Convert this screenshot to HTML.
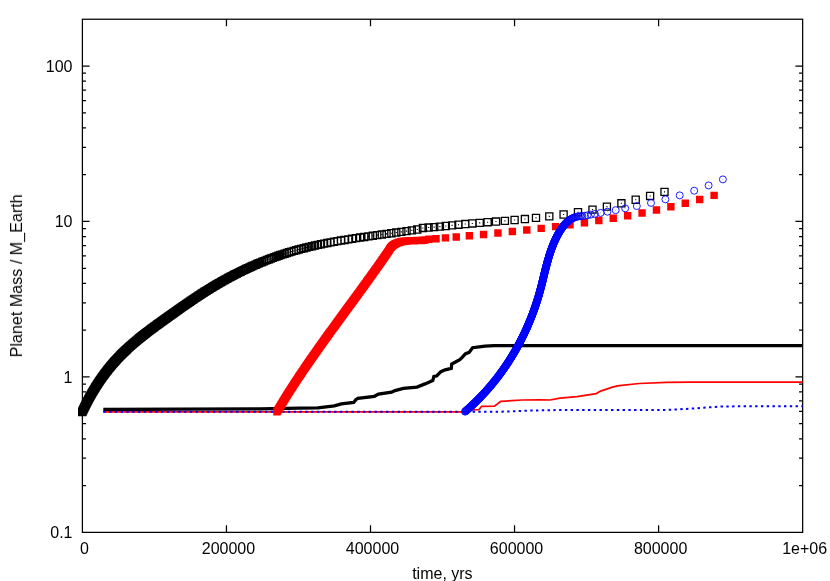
<!DOCTYPE html><html><head><meta charset="utf-8"><style>html,body{margin:0;padding:0;background:#fff}svg{display:block}</style></head><body><svg width="830" height="581" viewBox="0 0 830 581">
<rect width="830" height="581" fill="#fff"/>
<path d="M226.45,532.36 v-7 M226.45,19.23 v7 M370.50,532.36 v-7 M370.50,19.23 v7 M514.55,532.36 v-7 M514.55,19.23 v7 M658.60,532.36 v-7 M658.60,19.23 v7 M82.4,485.57 h3.6 M802.65,485.57 h-3.6 M82.4,458.19 h3.6 M802.65,458.19 h-3.6 M82.4,438.77 h3.6 M802.65,438.77 h-3.6 M82.4,423.71 h3.6 M802.65,423.71 h-3.6 M82.4,411.40 h3.6 M802.65,411.40 h-3.6 M82.4,400.99 h3.6 M802.65,400.99 h-3.6 M82.4,391.98 h3.6 M802.65,391.98 h-3.6 M82.4,384.03 h3.6 M802.65,384.03 h-3.6 M82.4,376.91 h7.2 M802.65,376.91 h-7.2 M82.4,330.12 h3.6 M802.65,330.12 h-3.6 M82.4,302.75 h3.6 M802.65,302.75 h-3.6 M82.4,283.33 h3.6 M802.65,283.33 h-3.6 M82.4,268.26 h3.6 M802.65,268.26 h-3.6 M82.4,255.95 h3.6 M802.65,255.95 h-3.6 M82.4,245.55 h3.6 M802.65,245.55 h-3.6 M82.4,236.53 h3.6 M802.65,236.53 h-3.6 M82.4,228.58 h3.6 M802.65,228.58 h-3.6 M82.4,221.47 h7.2 M802.65,221.47 h-7.2 M82.4,174.68 h3.6 M802.65,174.68 h-3.6 M82.4,147.30 h3.6 M802.65,147.30 h-3.6 M82.4,127.88 h3.6 M802.65,127.88 h-3.6 M82.4,112.82 h3.6 M802.65,112.82 h-3.6 M82.4,100.51 h3.6 M802.65,100.51 h-3.6 M82.4,90.10 h3.6 M802.65,90.10 h-3.6 M82.4,81.09 h3.6 M802.65,81.09 h-3.6 M82.4,73.14 h3.6 M802.65,73.14 h-3.6 M82.4,66.02 h7.2 M802.65,66.02 h-7.2" stroke="#000" stroke-width="1.25" fill="none"/>
<rect x="82.4" y="19.23" width="720.25" height="513.13" fill="none" stroke="#000" stroke-width="1.25"/>
<path d="M103.30,409.50 L180.00,409.20 L260.00,408.80 L300.00,408.20 L317.90,407.90 L334.40,405.90 L341.30,403.90 L353.70,402.50 L355.80,399.70 L357.90,398.40 L374.40,396.30 L378.50,394.00 L391.60,392.20 L395.00,390.60 L403.30,388.40 L417.00,387.10 L425.00,383.90 L432.70,380.60 L433.90,376.50 L436.60,376.00 L440.90,371.70 L445.10,369.80 L451.30,368.30 L451.70,364.10 L456.00,361.70 L459.80,359.70 L462.20,357.40 L465.30,353.90 L469.10,352.40 L472.60,347.70 L479.20,346.90 L485.00,346.20 L494.40,345.60 L802.70,345.60" stroke="#000" stroke-width="3.3" fill="none" stroke-linejoin="miter"/>
<path d="M103.30,411.90 L466.00,411.90 L469.00,409.90 L478.90,409.70 L481.60,406.30 L494.50,406.15 L500.90,401.30 L512.00,400.70 L522.00,400.00 L540.00,399.90 L550.00,400.00 L560.10,398.20 L577.00,396.60 L596.40,393.60 L600.60,391.10 L613.20,386.90 L619.20,385.70 L639.40,383.50 L666.40,382.30 L690.00,382.20 L802.70,382.20" stroke="#f00" stroke-width="1.7" fill="none" stroke-linejoin="round"/>
<path d="M103.30,411.85 L500.00,411.75 L530.00,410.60 L560.00,410.00 L666.00,410.00 L690.00,408.70 L722.00,406.40 L802.70,406.20" stroke="#00f" stroke-width="2" fill="none" stroke-dasharray="2.4 3.37"/>
<path d="M78.65,408.41h7.1v7.1h-7.1z M78.85,408.03h7.1v7.1h-7.1z M79.10,407.48h7.1v7.1h-7.1z M79.36,406.93h7.1v7.1h-7.1z M79.62,406.38h7.1v7.1h-7.1z M79.88,405.83h7.1v7.1h-7.1z M80.14,405.28h7.1v7.1h-7.1z M80.40,404.73h7.1v7.1h-7.1z M80.66,404.18h7.1v7.1h-7.1z M80.93,403.63h7.1v7.1h-7.1z M81.20,403.08h7.1v7.1h-7.1z M81.47,402.53h7.1v7.1h-7.1z M81.74,401.98h7.1v7.1h-7.1z M82.01,401.43h7.1v7.1h-7.1z M82.29,400.89h7.1v7.1h-7.1z M82.57,400.34h7.1v7.1h-7.1z M82.84,399.79h7.1v7.1h-7.1z M83.13,399.24h7.1v7.1h-7.1z M83.41,398.69h7.1v7.1h-7.1z M83.69,398.14h7.1v7.1h-7.1z M83.98,397.60h7.1v7.1h-7.1z M84.27,397.05h7.1v7.1h-7.1z M84.56,396.50h7.1v7.1h-7.1z M84.85,395.95h7.1v7.1h-7.1z M85.14,395.41h7.1v7.1h-7.1z M85.44,394.86h7.1v7.1h-7.1z M85.74,394.31h7.1v7.1h-7.1z M86.04,393.77h7.1v7.1h-7.1z M86.34,393.22h7.1v7.1h-7.1z M86.64,392.67h7.1v7.1h-7.1z M86.95,392.13h7.1v7.1h-7.1z M87.26,391.58h7.1v7.1h-7.1z M87.57,391.03h7.1v7.1h-7.1z M87.88,390.49h7.1v7.1h-7.1z M88.19,389.94h7.1v7.1h-7.1z M88.51,389.40h7.1v7.1h-7.1z M88.83,388.85h7.1v7.1h-7.1z M89.15,388.31h7.1v7.1h-7.1z M89.47,387.76h7.1v7.1h-7.1z M89.79,387.22h7.1v7.1h-7.1z M90.12,386.67h7.1v7.1h-7.1z M90.45,386.13h7.1v7.1h-7.1z M90.78,385.58h7.1v7.1h-7.1z M91.11,385.04h7.1v7.1h-7.1z M91.45,384.49h7.1v7.1h-7.1z M91.79,383.95h7.1v7.1h-7.1z M92.13,383.41h7.1v7.1h-7.1z M92.47,382.86h7.1v7.1h-7.1z M92.81,382.32h7.1v7.1h-7.1z M93.16,381.78h7.1v7.1h-7.1z M93.51,381.23h7.1v7.1h-7.1z M93.86,380.69h7.1v7.1h-7.1z M94.22,380.15h7.1v7.1h-7.1z M94.57,379.60h7.1v7.1h-7.1z M94.93,379.06h7.1v7.1h-7.1z M95.29,378.52h7.1v7.1h-7.1z M95.65,377.98h7.1v7.1h-7.1z M96.02,377.44h7.1v7.1h-7.1z M96.39,376.90h7.1v7.1h-7.1z M96.76,376.36h7.1v7.1h-7.1z M97.13,375.82h7.1v7.1h-7.1z M97.51,375.28h7.1v7.1h-7.1z M97.88,374.74h7.1v7.1h-7.1z M98.26,374.20h7.1v7.1h-7.1z M98.65,373.66h7.1v7.1h-7.1z M99.03,373.12h7.1v7.1h-7.1z M99.42,372.58h7.1v7.1h-7.1z M99.81,372.04h7.1v7.1h-7.1z M100.20,371.50h7.1v7.1h-7.1z M100.60,370.97h7.1v7.1h-7.1z M101.00,370.43h7.1v7.1h-7.1z M101.40,369.89h7.1v7.1h-7.1z M101.80,369.36h7.1v7.1h-7.1z M102.21,368.82h7.1v7.1h-7.1z M102.62,368.29h7.1v7.1h-7.1z M103.03,367.75h7.1v7.1h-7.1z M103.44,367.22h7.1v7.1h-7.1z M103.86,366.68h7.1v7.1h-7.1z M104.28,366.15h7.1v7.1h-7.1z M104.70,365.62h7.1v7.1h-7.1z M105.13,365.08h7.1v7.1h-7.1z M105.56,364.55h7.1v7.1h-7.1z M105.99,364.02h7.1v7.1h-7.1z M106.42,363.49h7.1v7.1h-7.1z M106.86,362.96h7.1v7.1h-7.1z M107.30,362.43h7.1v7.1h-7.1z M107.74,361.90h7.1v7.1h-7.1z M108.19,361.37h7.1v7.1h-7.1z M108.64,360.85h7.1v7.1h-7.1z M109.09,360.32h7.1v7.1h-7.1z M109.54,359.79h7.1v7.1h-7.1z M110.00,359.27h7.1v7.1h-7.1z M110.46,358.74h7.1v7.1h-7.1z M110.93,358.22h7.1v7.1h-7.1z M111.39,357.70h7.1v7.1h-7.1z M111.86,357.18h7.1v7.1h-7.1z M112.34,356.65h7.1v7.1h-7.1z M112.81,356.13h7.1v7.1h-7.1z M113.29,355.61h7.1v7.1h-7.1z M113.77,355.09h7.1v7.1h-7.1z M114.26,354.58h7.1v7.1h-7.1z M114.75,354.06h7.1v7.1h-7.1z M115.24,353.54h7.1v7.1h-7.1z M115.73,353.03h7.1v7.1h-7.1z M116.23,352.51h7.1v7.1h-7.1z M116.73,352.00h7.1v7.1h-7.1z M117.24,351.49h7.1v7.1h-7.1z M117.75,350.97h7.1v7.1h-7.1z M118.26,350.46h7.1v7.1h-7.1z M118.77,349.95h7.1v7.1h-7.1z M119.29,349.44h7.1v7.1h-7.1z M119.81,348.93h7.1v7.1h-7.1z M120.34,348.42h7.1v7.1h-7.1z M120.87,347.91h7.1v7.1h-7.1z M121.40,347.40h7.1v7.1h-7.1z M121.93,346.90h7.1v7.1h-7.1z M122.47,346.39h7.1v7.1h-7.1z M123.01,345.88h7.1v7.1h-7.1z M123.56,345.38h7.1v7.1h-7.1z M124.11,344.87h7.1v7.1h-7.1z M124.66,344.36h7.1v7.1h-7.1z M125.22,343.86h7.1v7.1h-7.1z M125.77,343.35h7.1v7.1h-7.1z M126.34,342.85h7.1v7.1h-7.1z M126.90,342.34h7.1v7.1h-7.1z M127.47,341.84h7.1v7.1h-7.1z M128.05,341.33h7.1v7.1h-7.1z M128.63,340.83h7.1v7.1h-7.1z M129.21,340.33h7.1v7.1h-7.1z M129.79,339.82h7.1v7.1h-7.1z M130.38,339.32h7.1v7.1h-7.1z M130.97,338.81h7.1v7.1h-7.1z M131.57,338.31h7.1v7.1h-7.1z M132.17,337.80h7.1v7.1h-7.1z M132.77,337.30h7.1v7.1h-7.1z M133.38,336.79h7.1v7.1h-7.1z M133.99,336.28h7.1v7.1h-7.1z M134.61,335.78h7.1v7.1h-7.1z M135.23,335.27h7.1v7.1h-7.1z M135.85,334.76h7.1v7.1h-7.1z M136.48,334.25h7.1v7.1h-7.1z M137.11,333.75h7.1v7.1h-7.1z M137.74,333.24h7.1v7.1h-7.1z M138.38,332.73h7.1v7.1h-7.1z M139.03,332.22h7.1v7.1h-7.1z M139.68,331.71h7.1v7.1h-7.1z M140.33,331.20h7.1v7.1h-7.1z M140.98,330.68h7.1v7.1h-7.1z M141.64,330.17h7.1v7.1h-7.1z M142.31,329.65h7.1v7.1h-7.1z M142.98,329.14h7.1v7.1h-7.1z M143.65,328.62h7.1v7.1h-7.1z M144.33,328.11h7.1v7.1h-7.1z M145.01,327.59h7.1v7.1h-7.1z M145.70,327.07h7.1v7.1h-7.1z M146.39,326.55h7.1v7.1h-7.1z M147.08,326.02h7.1v7.1h-7.1z M147.78,325.50h7.1v7.1h-7.1z M148.48,324.98h7.1v7.1h-7.1z M149.19,324.45h7.1v7.1h-7.1z M149.91,323.92h7.1v7.1h-7.1z M150.62,323.39h7.1v7.1h-7.1z M151.35,322.86h7.1v7.1h-7.1z M152.07,322.33h7.1v7.1h-7.1z M152.80,321.79h7.1v7.1h-7.1z M153.54,321.25h7.1v7.1h-7.1z M154.28,320.72h7.1v7.1h-7.1z M155.03,320.17h7.1v7.1h-7.1z M155.78,319.63h7.1v7.1h-7.1z M156.53,319.09h7.1v7.1h-7.1z M157.29,318.54h7.1v7.1h-7.1z M158.06,317.99h7.1v7.1h-7.1z M158.83,317.44h7.1v7.1h-7.1z M159.60,316.88h7.1v7.1h-7.1z M160.38,316.32h7.1v7.1h-7.1z M161.16,315.76h7.1v7.1h-7.1z M161.95,315.20h7.1v7.1h-7.1z M162.75,314.63h7.1v7.1h-7.1z M163.55,314.06h7.1v7.1h-7.1z M164.35,313.49h7.1v7.1h-7.1z M165.16,312.91h7.1v7.1h-7.1z M165.98,312.33h7.1v7.1h-7.1z M166.80,311.75h7.1v7.1h-7.1z M167.62,311.17h7.1v7.1h-7.1z M168.46,310.58h7.1v7.1h-7.1z M169.29,309.98h7.1v7.1h-7.1z M170.13,309.39h7.1v7.1h-7.1z M170.98,308.78h7.1v7.1h-7.1z M171.83,308.18h7.1v7.1h-7.1z M172.69,307.57h7.1v7.1h-7.1z M173.55,306.96h7.1v7.1h-7.1z M174.42,306.35h7.1v7.1h-7.1z M175.30,305.73h7.1v7.1h-7.1z M176.18,305.12h7.1v7.1h-7.1z M177.06,304.49h7.1v7.1h-7.1z M177.95,303.87h7.1v7.1h-7.1z M178.85,303.24h7.1v7.1h-7.1z M179.75,302.61h7.1v7.1h-7.1z M180.66,301.98h7.1v7.1h-7.1z M181.58,301.34h7.1v7.1h-7.1z M182.50,300.70h7.1v7.1h-7.1z M183.42,300.06h7.1v7.1h-7.1z M184.36,299.42h7.1v7.1h-7.1z M185.29,298.78h7.1v7.1h-7.1z M186.24,298.13h7.1v7.1h-7.1z M187.19,297.48h7.1v7.1h-7.1z M188.14,296.83h7.1v7.1h-7.1z M189.11,296.18h7.1v7.1h-7.1z M190.08,295.53h7.1v7.1h-7.1z M191.05,294.87h7.1v7.1h-7.1z M192.03,294.22h7.1v7.1h-7.1z M193.02,293.56h7.1v7.1h-7.1z M194.01,292.90h7.1v7.1h-7.1z M195.01,292.24h7.1v7.1h-7.1z M196.02,291.58h7.1v7.1h-7.1z M197.03,290.92h7.1v7.1h-7.1z M198.05,290.26h7.1v7.1h-7.1z M199.08,289.60h7.1v7.1h-7.1z M200.11,288.94h7.1v7.1h-7.1z M201.15,288.27h7.1v7.1h-7.1z M202.19,287.61h7.1v7.1h-7.1z M203.25,286.95h7.1v7.1h-7.1z M204.30,286.29h7.1v7.1h-7.1z M205.37,285.63h7.1v7.1h-7.1z M206.44,284.97h7.1v7.1h-7.1z M207.52,284.31h7.1v7.1h-7.1z M208.61,283.65h7.1v7.1h-7.1z M209.70,282.99h7.1v7.1h-7.1z M210.80,282.34h7.1v7.1h-7.1z M211.91,281.68h7.1v7.1h-7.1z M213.03,281.02h7.1v7.1h-7.1z M214.15,280.37h7.1v7.1h-7.1z M215.28,279.71h7.1v7.1h-7.1z M216.41,279.06h7.1v7.1h-7.1z M217.56,278.40h7.1v7.1h-7.1z M218.71,277.75h7.1v7.1h-7.1z M219.86,277.10h7.1v7.1h-7.1z M221.03,276.45h7.1v7.1h-7.1z M222.20,275.81h7.1v7.1h-7.1z M223.38,275.16h7.1v7.1h-7.1z M224.57,274.51h7.1v7.1h-7.1z M225.77,273.87h7.1v7.1h-7.1z M226.97,273.23h7.1v7.1h-7.1z M228.20,272.58h7.1v7.1h-7.1z M229.44,271.93h7.1v7.1h-7.1z M230.70,271.27h7.1v7.1h-7.1z M231.98,270.61h7.1v7.1h-7.1z M233.28,269.95h7.1v7.1h-7.1z M234.60,269.29h7.1v7.1h-7.1z M235.94,268.62h7.1v7.1h-7.1z M237.30,267.95h7.1v7.1h-7.1z M238.67,267.28h7.1v7.1h-7.1z M240.07,266.60h7.1v7.1h-7.1z M241.49,265.93h7.1v7.1h-7.1z M242.93,265.25h7.1v7.1h-7.1z M244.39,264.57h7.1v7.1h-7.1z M245.87,263.88h7.1v7.1h-7.1z M247.37,263.20h7.1v7.1h-7.1z M248.89,262.52h7.1v7.1h-7.1z M250.44,261.83h7.1v7.1h-7.1z M252.01,261.14h7.1v7.1h-7.1z M253.60,260.46h7.1v7.1h-7.1z M255.22,259.77h7.1v7.1h-7.1z M256.86,259.09h7.1v7.1h-7.1z M258.53,258.40h7.1v7.1h-7.1z M260.21,257.71h7.1v7.1h-7.1z M261.93,257.03h7.1v7.1h-7.1z M263.67,256.35h7.1v7.1h-7.1z M265.44,255.66h7.1v7.1h-7.1z M267.25,254.98h7.1v7.1h-7.1z M269.10,254.29h7.1v7.1h-7.1z M270.99,253.60h7.1v7.1h-7.1z M272.92,252.91h7.1v7.1h-7.1z M274.90,252.22h7.1v7.1h-7.1z M276.92,251.52h7.1v7.1h-7.1z M278.99,250.83h7.1v7.1h-7.1z M281.12,250.13h7.1v7.1h-7.1z M283.30,249.44h7.1v7.1h-7.1z M285.54,248.74h7.1v7.1h-7.1z M287.84,248.05h7.1v7.1h-7.1z M290.20,247.36h7.1v7.1h-7.1z M292.62,246.67h7.1v7.1h-7.1z M295.10,245.99h7.1v7.1h-7.1z M297.64,245.31h7.1v7.1h-7.1z M300.25,244.64h7.1v7.1h-7.1z M302.93,243.97h7.1v7.1h-7.1z M305.68,243.30h7.1v7.1h-7.1z M308.50,242.64h7.1v7.1h-7.1z M311.39,241.99h7.1v7.1h-7.1z M314.36,241.34h7.1v7.1h-7.1z M317.41,240.70h7.1v7.1h-7.1z M320.53,240.07h7.1v7.1h-7.1z M323.73,239.44h7.1v7.1h-7.1z M327.02,238.81h7.1v7.1h-7.1z M330.39,238.20h7.1v7.1h-7.1z M333.85,237.59h7.1v7.1h-7.1z M337.40,236.98h7.1v7.1h-7.1z M341.04,236.38h7.1v7.1h-7.1z M344.77,235.78h7.1v7.1h-7.1z M348.60,235.19h7.1v7.1h-7.1z M352.53,234.60h7.1v7.1h-7.1z M356.56,234.00h7.1v7.1h-7.1z M360.69,233.41h7.1v7.1h-7.1z M364.92,232.81h7.1v7.1h-7.1z M369.27,232.21h7.1v7.1h-7.1z M373.73,231.60h7.1v7.1h-7.1z M378.30,230.98h7.1v7.1h-7.1z M382.99,230.35h7.1v7.1h-7.1z M387.80,229.69h7.1v7.1h-7.1z M392.73,229.01h7.1v7.1h-7.1z M397.79,228.30h7.1v7.1h-7.1z M402.97,227.56h7.1v7.1h-7.1z M408.29,226.78h7.1v7.1h-7.1z M413.75,225.96h7.1v7.1h-7.1z M419.35,224.40h7.1v7.1h-7.1z M425.05,224.02h7.1v7.1h-7.1z M430.65,223.57h7.1v7.1h-7.1z M436.35,223.04h7.1v7.1h-7.1z M442.25,222.45h7.1v7.1h-7.1z M448.55,221.80h7.1v7.1h-7.1z M454.95,221.16h7.1v7.1h-7.1z M461.75,220.52h7.1v7.1h-7.1z M468.75,219.90h7.1v7.1h-7.1z M476.15,219.29h7.1v7.1h-7.1z M484.05,218.66h7.1v7.1h-7.1z M492.45,218.00h7.1v7.1h-7.1z M501.35,217.28h7.1v7.1h-7.1z M511.05,216.45h7.1v7.1h-7.1z M521.35,215.50h7.1v7.1h-7.1z M532.45,214.37h7.1v7.1h-7.1z M545.75,212.84h7.1v7.1h-7.1z M560.05,210.93h7.1v7.1h-7.1z M574.45,208.68h7.1v7.1h-7.1z M588.95,206.04h7.1v7.1h-7.1z M603.35,203.08h7.1v7.1h-7.1z M617.85,199.77h7.1v7.1h-7.1z M632.15,196.22h7.1v7.1h-7.1z M646.55,192.40h7.1v7.1h-7.1z M660.95,188.36h7.1v7.1h-7.1z" stroke="#000" stroke-width="1.3" fill="none"/>
<path d="M81.65,411.41h1.1v1.1h-1.1z M81.85,411.03h1.1v1.1h-1.1z M82.10,410.48h1.1v1.1h-1.1z M82.36,409.93h1.1v1.1h-1.1z M82.62,409.38h1.1v1.1h-1.1z M82.88,408.83h1.1v1.1h-1.1z M83.14,408.28h1.1v1.1h-1.1z M83.40,407.73h1.1v1.1h-1.1z M83.66,407.18h1.1v1.1h-1.1z M83.93,406.63h1.1v1.1h-1.1z M84.20,406.08h1.1v1.1h-1.1z M84.47,405.53h1.1v1.1h-1.1z M84.74,404.98h1.1v1.1h-1.1z M85.01,404.43h1.1v1.1h-1.1z M85.29,403.89h1.1v1.1h-1.1z M85.57,403.34h1.1v1.1h-1.1z M85.84,402.79h1.1v1.1h-1.1z M86.13,402.24h1.1v1.1h-1.1z M86.41,401.69h1.1v1.1h-1.1z M86.69,401.14h1.1v1.1h-1.1z M86.98,400.60h1.1v1.1h-1.1z M87.27,400.05h1.1v1.1h-1.1z M87.56,399.50h1.1v1.1h-1.1z M87.85,398.95h1.1v1.1h-1.1z M88.14,398.41h1.1v1.1h-1.1z M88.44,397.86h1.1v1.1h-1.1z M88.74,397.31h1.1v1.1h-1.1z M89.04,396.77h1.1v1.1h-1.1z M89.34,396.22h1.1v1.1h-1.1z M89.64,395.67h1.1v1.1h-1.1z M89.95,395.13h1.1v1.1h-1.1z M90.26,394.58h1.1v1.1h-1.1z M90.57,394.03h1.1v1.1h-1.1z M90.88,393.49h1.1v1.1h-1.1z M91.19,392.94h1.1v1.1h-1.1z M91.51,392.40h1.1v1.1h-1.1z M91.83,391.85h1.1v1.1h-1.1z M92.15,391.31h1.1v1.1h-1.1z M92.47,390.76h1.1v1.1h-1.1z M92.79,390.22h1.1v1.1h-1.1z M93.12,389.67h1.1v1.1h-1.1z M93.45,389.13h1.1v1.1h-1.1z M93.78,388.58h1.1v1.1h-1.1z M94.11,388.04h1.1v1.1h-1.1z M94.45,387.49h1.1v1.1h-1.1z M94.79,386.95h1.1v1.1h-1.1z M95.13,386.41h1.1v1.1h-1.1z M95.47,385.86h1.1v1.1h-1.1z M95.81,385.32h1.1v1.1h-1.1z M96.16,384.78h1.1v1.1h-1.1z M96.51,384.23h1.1v1.1h-1.1z M96.86,383.69h1.1v1.1h-1.1z M97.22,383.15h1.1v1.1h-1.1z M97.57,382.60h1.1v1.1h-1.1z M97.93,382.06h1.1v1.1h-1.1z M98.29,381.52h1.1v1.1h-1.1z M98.65,380.98h1.1v1.1h-1.1z M99.02,380.44h1.1v1.1h-1.1z M99.39,379.90h1.1v1.1h-1.1z M99.76,379.36h1.1v1.1h-1.1z M100.13,378.82h1.1v1.1h-1.1z M100.51,378.28h1.1v1.1h-1.1z M100.88,377.74h1.1v1.1h-1.1z M101.26,377.20h1.1v1.1h-1.1z M101.65,376.66h1.1v1.1h-1.1z M102.03,376.12h1.1v1.1h-1.1z M102.42,375.58h1.1v1.1h-1.1z M102.81,375.04h1.1v1.1h-1.1z M103.20,374.50h1.1v1.1h-1.1z M103.60,373.97h1.1v1.1h-1.1z M104.00,373.43h1.1v1.1h-1.1z M104.40,372.89h1.1v1.1h-1.1z M104.80,372.36h1.1v1.1h-1.1z M105.21,371.82h1.1v1.1h-1.1z M105.62,371.29h1.1v1.1h-1.1z M106.03,370.75h1.1v1.1h-1.1z M106.44,370.22h1.1v1.1h-1.1z M106.86,369.68h1.1v1.1h-1.1z M107.28,369.15h1.1v1.1h-1.1z M107.70,368.62h1.1v1.1h-1.1z M108.13,368.08h1.1v1.1h-1.1z M108.56,367.55h1.1v1.1h-1.1z M108.99,367.02h1.1v1.1h-1.1z M109.42,366.49h1.1v1.1h-1.1z M109.86,365.96h1.1v1.1h-1.1z M110.30,365.43h1.1v1.1h-1.1z M110.74,364.90h1.1v1.1h-1.1z M111.19,364.37h1.1v1.1h-1.1z M111.64,363.85h1.1v1.1h-1.1z M112.09,363.32h1.1v1.1h-1.1z M112.54,362.79h1.1v1.1h-1.1z M113.00,362.27h1.1v1.1h-1.1z M113.46,361.74h1.1v1.1h-1.1z M113.93,361.22h1.1v1.1h-1.1z M114.39,360.70h1.1v1.1h-1.1z M114.86,360.18h1.1v1.1h-1.1z M115.34,359.65h1.1v1.1h-1.1z M115.81,359.13h1.1v1.1h-1.1z M116.29,358.61h1.1v1.1h-1.1z M116.77,358.09h1.1v1.1h-1.1z M117.26,357.58h1.1v1.1h-1.1z M117.75,357.06h1.1v1.1h-1.1z M118.24,356.54h1.1v1.1h-1.1z M118.73,356.03h1.1v1.1h-1.1z M119.23,355.51h1.1v1.1h-1.1z M119.73,355.00h1.1v1.1h-1.1z M120.24,354.49h1.1v1.1h-1.1z M120.75,353.97h1.1v1.1h-1.1z M121.26,353.46h1.1v1.1h-1.1z M121.77,352.95h1.1v1.1h-1.1z M122.29,352.44h1.1v1.1h-1.1z M122.81,351.93h1.1v1.1h-1.1z M123.34,351.42h1.1v1.1h-1.1z M123.87,350.91h1.1v1.1h-1.1z M124.40,350.40h1.1v1.1h-1.1z M124.93,349.90h1.1v1.1h-1.1z M125.47,349.39h1.1v1.1h-1.1z M126.01,348.88h1.1v1.1h-1.1z M126.56,348.38h1.1v1.1h-1.1z M127.11,347.87h1.1v1.1h-1.1z M127.66,347.36h1.1v1.1h-1.1z M128.22,346.86h1.1v1.1h-1.1z M128.77,346.35h1.1v1.1h-1.1z M129.34,345.85h1.1v1.1h-1.1z M129.90,345.34h1.1v1.1h-1.1z M130.47,344.84h1.1v1.1h-1.1z M131.05,344.33h1.1v1.1h-1.1z M131.63,343.83h1.1v1.1h-1.1z M132.21,343.33h1.1v1.1h-1.1z M132.79,342.82h1.1v1.1h-1.1z M133.38,342.32h1.1v1.1h-1.1z M133.97,341.81h1.1v1.1h-1.1z M134.57,341.31h1.1v1.1h-1.1z M135.17,340.80h1.1v1.1h-1.1z M135.77,340.30h1.1v1.1h-1.1z M136.38,339.79h1.1v1.1h-1.1z M136.99,339.28h1.1v1.1h-1.1z M137.61,338.78h1.1v1.1h-1.1z M138.23,338.27h1.1v1.1h-1.1z M138.85,337.76h1.1v1.1h-1.1z M139.48,337.25h1.1v1.1h-1.1z M140.11,336.75h1.1v1.1h-1.1z M140.74,336.24h1.1v1.1h-1.1z M141.38,335.73h1.1v1.1h-1.1z M142.03,335.22h1.1v1.1h-1.1z M142.68,334.71h1.1v1.1h-1.1z M143.33,334.20h1.1v1.1h-1.1z M143.98,333.68h1.1v1.1h-1.1z M144.64,333.17h1.1v1.1h-1.1z M145.31,332.65h1.1v1.1h-1.1z M145.98,332.14h1.1v1.1h-1.1z M146.65,331.62h1.1v1.1h-1.1z M147.33,331.11h1.1v1.1h-1.1z M148.01,330.59h1.1v1.1h-1.1z M148.70,330.07h1.1v1.1h-1.1z M149.39,329.55h1.1v1.1h-1.1z M150.08,329.02h1.1v1.1h-1.1z M150.78,328.50h1.1v1.1h-1.1z M151.48,327.98h1.1v1.1h-1.1z M152.19,327.45h1.1v1.1h-1.1z M152.91,326.92h1.1v1.1h-1.1z M153.62,326.39h1.1v1.1h-1.1z M154.35,325.86h1.1v1.1h-1.1z M155.07,325.33h1.1v1.1h-1.1z M155.80,324.79h1.1v1.1h-1.1z M156.54,324.25h1.1v1.1h-1.1z M157.28,323.72h1.1v1.1h-1.1z M158.03,323.17h1.1v1.1h-1.1z M158.78,322.63h1.1v1.1h-1.1z M159.53,322.09h1.1v1.1h-1.1z M160.29,321.54h1.1v1.1h-1.1z M161.06,320.99h1.1v1.1h-1.1z M161.83,320.44h1.1v1.1h-1.1z M162.60,319.88h1.1v1.1h-1.1z M163.38,319.32h1.1v1.1h-1.1z M164.16,318.76h1.1v1.1h-1.1z M164.95,318.20h1.1v1.1h-1.1z M165.75,317.63h1.1v1.1h-1.1z M166.55,317.06h1.1v1.1h-1.1z M167.35,316.49h1.1v1.1h-1.1z M168.16,315.91h1.1v1.1h-1.1z M168.98,315.33h1.1v1.1h-1.1z M169.80,314.75h1.1v1.1h-1.1z M170.62,314.17h1.1v1.1h-1.1z M171.46,313.58h1.1v1.1h-1.1z M172.29,312.98h1.1v1.1h-1.1z M173.13,312.39h1.1v1.1h-1.1z M173.98,311.78h1.1v1.1h-1.1z M174.83,311.18h1.1v1.1h-1.1z M175.69,310.57h1.1v1.1h-1.1z M176.55,309.96h1.1v1.1h-1.1z M177.42,309.35h1.1v1.1h-1.1z M178.30,308.73h1.1v1.1h-1.1z M179.18,308.12h1.1v1.1h-1.1z M180.06,307.49h1.1v1.1h-1.1z M180.95,306.87h1.1v1.1h-1.1z M181.85,306.24h1.1v1.1h-1.1z M182.75,305.61h1.1v1.1h-1.1z M183.66,304.98h1.1v1.1h-1.1z M184.58,304.34h1.1v1.1h-1.1z M185.50,303.70h1.1v1.1h-1.1z M186.42,303.06h1.1v1.1h-1.1z M187.36,302.42h1.1v1.1h-1.1z M188.29,301.78h1.1v1.1h-1.1z M189.24,301.13h1.1v1.1h-1.1z M190.19,300.48h1.1v1.1h-1.1z M191.14,299.83h1.1v1.1h-1.1z M192.11,299.18h1.1v1.1h-1.1z M193.08,298.53h1.1v1.1h-1.1z M194.05,297.87h1.1v1.1h-1.1z M195.03,297.22h1.1v1.1h-1.1z M196.02,296.56h1.1v1.1h-1.1z M197.01,295.90h1.1v1.1h-1.1z M198.01,295.24h1.1v1.1h-1.1z M199.02,294.58h1.1v1.1h-1.1z M200.03,293.92h1.1v1.1h-1.1z M201.05,293.26h1.1v1.1h-1.1z M202.08,292.60h1.1v1.1h-1.1z M203.11,291.94h1.1v1.1h-1.1z M204.15,291.27h1.1v1.1h-1.1z M205.19,290.61h1.1v1.1h-1.1z M206.25,289.95h1.1v1.1h-1.1z M207.30,289.29h1.1v1.1h-1.1z M208.37,288.63h1.1v1.1h-1.1z M209.44,287.97h1.1v1.1h-1.1z M210.52,287.31h1.1v1.1h-1.1z M211.61,286.65h1.1v1.1h-1.1z M212.70,285.99h1.1v1.1h-1.1z M213.80,285.34h1.1v1.1h-1.1z M214.91,284.68h1.1v1.1h-1.1z M216.03,284.02h1.1v1.1h-1.1z M217.15,283.37h1.1v1.1h-1.1z M218.28,282.71h1.1v1.1h-1.1z M219.41,282.06h1.1v1.1h-1.1z M220.56,281.40h1.1v1.1h-1.1z M221.71,280.75h1.1v1.1h-1.1z M222.86,280.10h1.1v1.1h-1.1z M224.03,279.45h1.1v1.1h-1.1z M225.20,278.81h1.1v1.1h-1.1z M226.38,278.16h1.1v1.1h-1.1z M227.57,277.51h1.1v1.1h-1.1z M228.77,276.87h1.1v1.1h-1.1z M229.97,276.23h1.1v1.1h-1.1z M231.20,275.58h1.1v1.1h-1.1z M232.44,274.93h1.1v1.1h-1.1z M233.70,274.27h1.1v1.1h-1.1z M234.98,273.61h1.1v1.1h-1.1z M236.28,272.95h1.1v1.1h-1.1z M237.60,272.29h1.1v1.1h-1.1z M238.94,271.62h1.1v1.1h-1.1z M240.30,270.95h1.1v1.1h-1.1z M241.67,270.28h1.1v1.1h-1.1z M243.07,269.60h1.1v1.1h-1.1z M244.49,268.93h1.1v1.1h-1.1z M245.93,268.25h1.1v1.1h-1.1z M247.39,267.57h1.1v1.1h-1.1z M248.87,266.88h1.1v1.1h-1.1z M250.37,266.20h1.1v1.1h-1.1z M251.89,265.52h1.1v1.1h-1.1z M253.44,264.83h1.1v1.1h-1.1z M255.01,264.14h1.1v1.1h-1.1z M256.60,263.46h1.1v1.1h-1.1z M258.22,262.77h1.1v1.1h-1.1z M259.86,262.09h1.1v1.1h-1.1z M261.53,261.40h1.1v1.1h-1.1z M263.21,260.71h1.1v1.1h-1.1z M264.93,260.03h1.1v1.1h-1.1z M266.67,259.35h1.1v1.1h-1.1z M268.44,258.66h1.1v1.1h-1.1z M270.25,257.98h1.1v1.1h-1.1z M272.10,257.29h1.1v1.1h-1.1z M273.99,256.60h1.1v1.1h-1.1z M275.92,255.91h1.1v1.1h-1.1z M277.90,255.22h1.1v1.1h-1.1z M279.92,254.52h1.1v1.1h-1.1z M281.99,253.83h1.1v1.1h-1.1z M284.12,253.13h1.1v1.1h-1.1z M286.30,252.44h1.1v1.1h-1.1z M288.54,251.74h1.1v1.1h-1.1z M290.84,251.05h1.1v1.1h-1.1z M293.20,250.36h1.1v1.1h-1.1z M295.62,249.67h1.1v1.1h-1.1z M298.10,248.99h1.1v1.1h-1.1z M300.64,248.31h1.1v1.1h-1.1z M303.25,247.64h1.1v1.1h-1.1z M305.93,246.97h1.1v1.1h-1.1z M308.68,246.30h1.1v1.1h-1.1z M311.50,245.64h1.1v1.1h-1.1z M314.39,244.99h1.1v1.1h-1.1z M317.36,244.34h1.1v1.1h-1.1z M320.41,243.70h1.1v1.1h-1.1z M323.53,243.07h1.1v1.1h-1.1z M326.73,242.44h1.1v1.1h-1.1z M330.02,241.81h1.1v1.1h-1.1z M333.39,241.20h1.1v1.1h-1.1z M336.85,240.59h1.1v1.1h-1.1z M340.40,239.98h1.1v1.1h-1.1z M344.04,239.38h1.1v1.1h-1.1z M347.77,238.78h1.1v1.1h-1.1z M351.60,238.19h1.1v1.1h-1.1z M355.53,237.60h1.1v1.1h-1.1z M359.56,237.00h1.1v1.1h-1.1z M363.69,236.41h1.1v1.1h-1.1z M367.92,235.81h1.1v1.1h-1.1z M372.27,235.21h1.1v1.1h-1.1z M376.73,234.60h1.1v1.1h-1.1z M381.30,233.98h1.1v1.1h-1.1z M385.99,233.35h1.1v1.1h-1.1z M390.80,232.69h1.1v1.1h-1.1z M395.73,232.01h1.1v1.1h-1.1z M400.79,231.30h1.1v1.1h-1.1z M405.97,230.56h1.1v1.1h-1.1z M411.29,229.78h1.1v1.1h-1.1z M416.75,228.96h1.1v1.1h-1.1z M422.35,227.40h1.1v1.1h-1.1z M428.05,227.02h1.1v1.1h-1.1z M433.65,226.57h1.1v1.1h-1.1z M439.35,226.04h1.1v1.1h-1.1z M445.25,225.45h1.1v1.1h-1.1z M451.55,224.80h1.1v1.1h-1.1z M457.95,224.16h1.1v1.1h-1.1z M464.75,223.52h1.1v1.1h-1.1z M471.75,222.90h1.1v1.1h-1.1z M479.15,222.29h1.1v1.1h-1.1z M487.05,221.66h1.1v1.1h-1.1z M495.45,221.00h1.1v1.1h-1.1z M504.35,220.28h1.1v1.1h-1.1z M514.05,219.45h1.1v1.1h-1.1z M524.35,218.50h1.1v1.1h-1.1z M535.45,217.37h1.1v1.1h-1.1z M548.75,215.84h1.1v1.1h-1.1z M563.05,213.93h1.1v1.1h-1.1z M577.45,211.68h1.1v1.1h-1.1z M591.95,209.04h1.1v1.1h-1.1z M606.35,206.08h1.1v1.1h-1.1z M620.85,202.77h1.1v1.1h-1.1z M635.15,199.22h1.1v1.1h-1.1z M649.55,195.40h1.1v1.1h-1.1z M663.95,191.36h1.1v1.1h-1.1z" fill="#000"/>
<path d="M273.25,408.04h7.4v7.45h-7.4z M273.75,407.26h7.4v7.45h-7.4z M274.25,406.41h7.4v7.45h-7.4z M274.75,405.57h7.4v7.45h-7.4z M275.25,404.72h7.4v7.45h-7.4z M275.76,403.88h7.4v7.45h-7.4z M276.26,403.04h7.4v7.45h-7.4z M276.76,402.21h7.4v7.45h-7.4z M277.26,401.37h7.4v7.45h-7.4z M277.77,400.54h7.4v7.45h-7.4z M278.27,399.71h7.4v7.45h-7.4z M278.78,398.89h7.4v7.45h-7.4z M279.28,398.06h7.4v7.45h-7.4z M279.78,397.24h7.4v7.45h-7.4z M280.29,396.42h7.4v7.45h-7.4z M280.79,395.60h7.4v7.45h-7.4z M281.30,394.78h7.4v7.45h-7.4z M281.81,393.96h7.4v7.45h-7.4z M282.31,393.15h7.4v7.45h-7.4z M282.82,392.34h7.4v7.45h-7.4z M283.33,391.53h7.4v7.45h-7.4z M283.83,390.72h7.4v7.45h-7.4z M284.34,389.91h7.4v7.45h-7.4z M284.85,389.11h7.4v7.45h-7.4z M285.36,388.31h7.4v7.45h-7.4z M285.87,387.50h7.4v7.45h-7.4z M286.38,386.70h7.4v7.45h-7.4z M286.89,385.91h7.4v7.45h-7.4z M287.40,385.11h7.4v7.45h-7.4z M287.91,384.31h7.4v7.45h-7.4z M288.42,383.52h7.4v7.45h-7.4z M288.93,382.73h7.4v7.45h-7.4z M289.44,381.94h7.4v7.45h-7.4z M289.95,381.15h7.4v7.45h-7.4z M290.46,380.36h7.4v7.45h-7.4z M290.98,379.57h7.4v7.45h-7.4z M291.49,378.79h7.4v7.45h-7.4z M292.00,378.01h7.4v7.45h-7.4z M292.52,377.22h7.4v7.45h-7.4z M293.03,376.44h7.4v7.45h-7.4z M293.54,375.66h7.4v7.45h-7.4z M294.06,374.88h7.4v7.45h-7.4z M294.57,374.11h7.4v7.45h-7.4z M295.09,373.33h7.4v7.45h-7.4z M295.60,372.55h7.4v7.45h-7.4z M296.12,371.78h7.4v7.45h-7.4z M296.64,371.01h7.4v7.45h-7.4z M297.15,370.24h7.4v7.45h-7.4z M297.67,369.46h7.4v7.45h-7.4z M298.19,368.69h7.4v7.45h-7.4z M298.71,367.93h7.4v7.45h-7.4z M299.22,367.16h7.4v7.45h-7.4z M299.74,366.39h7.4v7.45h-7.4z M300.26,365.63h7.4v7.45h-7.4z M300.78,364.86h7.4v7.45h-7.4z M301.30,364.10h7.4v7.45h-7.4z M301.82,363.33h7.4v7.45h-7.4z M302.34,362.57h7.4v7.45h-7.4z M302.86,361.81h7.4v7.45h-7.4z M303.38,361.05h7.4v7.45h-7.4z M303.90,360.29h7.4v7.45h-7.4z M304.42,359.53h7.4v7.45h-7.4z M304.95,358.77h7.4v7.45h-7.4z M305.47,358.02h7.4v7.45h-7.4z M305.99,357.26h7.4v7.45h-7.4z M306.51,356.50h7.4v7.45h-7.4z M307.04,355.75h7.4v7.45h-7.4z M307.56,354.99h7.4v7.45h-7.4z M308.09,354.24h7.4v7.45h-7.4z M308.61,353.49h7.4v7.45h-7.4z M309.14,352.74h7.4v7.45h-7.4z M309.66,351.98h7.4v7.45h-7.4z M310.19,351.23h7.4v7.45h-7.4z M310.71,350.48h7.4v7.45h-7.4z M311.24,349.73h7.4v7.45h-7.4z M311.77,348.98h7.4v7.45h-7.4z M312.29,348.23h7.4v7.45h-7.4z M312.82,347.48h7.4v7.45h-7.4z M313.35,346.73h7.4v7.45h-7.4z M313.88,345.99h7.4v7.45h-7.4z M314.40,345.24h7.4v7.45h-7.4z M314.93,344.49h7.4v7.45h-7.4z M315.46,343.75h7.4v7.45h-7.4z M315.99,343.00h7.4v7.45h-7.4z M316.52,342.25h7.4v7.45h-7.4z M317.05,341.51h7.4v7.45h-7.4z M317.58,340.76h7.4v7.45h-7.4z M318.12,340.02h7.4v7.45h-7.4z M318.65,339.27h7.4v7.45h-7.4z M319.18,338.53h7.4v7.45h-7.4z M319.71,337.79h7.4v7.45h-7.4z M320.24,337.04h7.4v7.45h-7.4z M320.78,336.30h7.4v7.45h-7.4z M321.31,335.56h7.4v7.45h-7.4z M321.84,334.81h7.4v7.45h-7.4z M322.38,334.07h7.4v7.45h-7.4z M322.91,333.33h7.4v7.45h-7.4z M323.45,332.58h7.4v7.45h-7.4z M323.98,331.84h7.4v7.45h-7.4z M324.52,331.10h7.4v7.45h-7.4z M325.05,330.36h7.4v7.45h-7.4z M325.59,329.61h7.4v7.45h-7.4z M326.13,328.87h7.4v7.45h-7.4z M326.66,328.13h7.4v7.45h-7.4z M327.20,327.39h7.4v7.45h-7.4z M327.74,326.65h7.4v7.45h-7.4z M328.28,325.90h7.4v7.45h-7.4z M328.81,325.16h7.4v7.45h-7.4z M329.35,324.42h7.4v7.45h-7.4z M329.89,323.68h7.4v7.45h-7.4z M330.43,322.93h7.4v7.45h-7.4z M330.97,322.19h7.4v7.45h-7.4z M331.51,321.45h7.4v7.45h-7.4z M332.05,320.71h7.4v7.45h-7.4z M332.59,319.96h7.4v7.45h-7.4z M333.14,319.22h7.4v7.45h-7.4z M333.68,318.48h7.4v7.45h-7.4z M334.22,317.73h7.4v7.45h-7.4z M334.76,316.99h7.4v7.45h-7.4z M335.31,316.25h7.4v7.45h-7.4z M335.85,315.50h7.4v7.45h-7.4z M336.39,314.76h7.4v7.45h-7.4z M336.94,314.01h7.4v7.45h-7.4z M337.48,313.27h7.4v7.45h-7.4z M338.03,312.52h7.4v7.45h-7.4z M338.57,311.78h7.4v7.45h-7.4z M339.12,311.03h7.4v7.45h-7.4z M339.66,310.28h7.4v7.45h-7.4z M340.21,309.54h7.4v7.45h-7.4z M340.76,308.79h7.4v7.45h-7.4z M341.30,308.04h7.4v7.45h-7.4z M341.85,307.30h7.4v7.45h-7.4z M342.40,306.55h7.4v7.45h-7.4z M342.95,305.80h7.4v7.45h-7.4z M343.50,305.05h7.4v7.45h-7.4z M344.04,304.30h7.4v7.45h-7.4z M344.59,303.55h7.4v7.45h-7.4z M345.14,302.80h7.4v7.45h-7.4z M345.69,302.05h7.4v7.45h-7.4z M346.24,301.29h7.4v7.45h-7.4z M346.80,300.54h7.4v7.45h-7.4z M347.35,299.79h7.4v7.45h-7.4z M347.90,299.03h7.4v7.45h-7.4z M348.45,298.28h7.4v7.45h-7.4z M349.00,297.52h7.4v7.45h-7.4z M349.56,296.77h7.4v7.45h-7.4z M350.11,296.01h7.4v7.45h-7.4z M350.66,295.25h7.4v7.45h-7.4z M351.22,294.50h7.4v7.45h-7.4z M351.77,293.74h7.4v7.45h-7.4z M352.33,292.98h7.4v7.45h-7.4z M352.88,292.22h7.4v7.45h-7.4z M353.44,291.45h7.4v7.45h-7.4z M353.99,290.69h7.4v7.45h-7.4z M354.55,289.93h7.4v7.45h-7.4z M355.10,289.17h7.4v7.45h-7.4z M355.66,288.40h7.4v7.45h-7.4z M356.22,287.64h7.4v7.45h-7.4z M356.78,286.87h7.4v7.45h-7.4z M357.33,286.10h7.4v7.45h-7.4z M357.89,285.33h7.4v7.45h-7.4z M358.45,284.56h7.4v7.45h-7.4z M359.01,283.79h7.4v7.45h-7.4z M359.57,283.02h7.4v7.45h-7.4z M360.13,282.25h7.4v7.45h-7.4z M360.69,281.47h7.4v7.45h-7.4z M361.25,280.70h7.4v7.45h-7.4z M361.81,279.92h7.4v7.45h-7.4z M362.38,279.14h7.4v7.45h-7.4z M362.94,278.37h7.4v7.45h-7.4z M363.50,277.59h7.4v7.45h-7.4z M364.06,276.81h7.4v7.45h-7.4z M364.63,276.02h7.4v7.45h-7.4z M365.19,275.24h7.4v7.45h-7.4z M365.75,274.46h7.4v7.45h-7.4z M366.32,273.67h7.4v7.45h-7.4z M366.88,272.88h7.4v7.45h-7.4z M367.45,272.09h7.4v7.45h-7.4z M368.01,271.30h7.4v7.45h-7.4z M368.58,270.51h7.4v7.45h-7.4z M369.15,269.72h7.4v7.45h-7.4z M369.71,268.92h7.4v7.45h-7.4z M370.28,268.13h7.4v7.45h-7.4z M370.85,267.33h7.4v7.45h-7.4z M371.41,266.53h7.4v7.45h-7.4z M371.98,265.73h7.4v7.45h-7.4z M372.55,264.93h7.4v7.45h-7.4z M373.12,264.13h7.4v7.45h-7.4z M373.69,263.32h7.4v7.45h-7.4z M374.26,262.51h7.4v7.45h-7.4z M374.83,261.71h7.4v7.45h-7.4z M375.40,260.90h7.4v7.45h-7.4z M375.97,260.08h7.4v7.45h-7.4z M376.54,259.27h7.4v7.45h-7.4z M377.11,258.45h7.4v7.45h-7.4z M377.69,257.64h7.4v7.45h-7.4z M378.26,256.82h7.4v7.45h-7.4z M378.83,256.00h7.4v7.45h-7.4z M379.41,255.17h7.4v7.45h-7.4z M379.98,254.35h7.4v7.45h-7.4z M380.55,253.52h7.4v7.45h-7.4z M381.13,252.69h7.4v7.45h-7.4z M381.70,251.86h7.4v7.45h-7.4z M382.28,251.03h7.4v7.45h-7.4z M382.85,250.19h7.4v7.45h-7.4z M383.43,249.35h7.4v7.45h-7.4z M384.01,248.51h7.4v7.45h-7.4z M384.58,247.67h7.4v7.45h-7.4z M385.16,246.83h7.4v7.45h-7.4z M385.74,245.98h7.4v7.45h-7.4z M386.25,244.91h7.4v7.45h-7.4z M386.83,244.12h7.4v7.45h-7.4z M387.41,243.43h7.4v7.45h-7.4z M387.99,242.81h7.4v7.45h-7.4z M388.57,242.26h7.4v7.45h-7.4z M389.15,241.77h7.4v7.45h-7.4z M389.73,241.32h7.4v7.45h-7.4z M390.31,240.92h7.4v7.45h-7.4z M390.89,240.55h7.4v7.45h-7.4z M391.47,240.21h7.4v7.45h-7.4z M392.05,239.91h7.4v7.45h-7.4z M392.64,239.63h7.4v7.45h-7.4z M393.22,239.38h7.4v7.45h-7.4z M393.80,239.15h7.4v7.45h-7.4z M394.39,238.93h7.4v7.45h-7.4z M394.97,238.74h7.4v7.45h-7.4z M395.55,238.56h7.4v7.45h-7.4z M396.14,238.40h7.4v7.45h-7.4z M396.72,238.25h7.4v7.45h-7.4z M397.31,238.11h7.4v7.45h-7.4z M397.90,237.99h7.4v7.45h-7.4z M398.48,237.87h7.4v7.45h-7.4z M399.07,237.77h7.4v7.45h-7.4z M399.66,237.67h7.4v7.45h-7.4z M400.24,237.58h7.4v7.45h-7.4z M400.83,237.50h7.4v7.45h-7.4z M401.42,237.43h7.4v7.45h-7.4z M402.01,237.36h7.4v7.45h-7.4z M402.60,237.31h7.4v7.45h-7.4z M403.19,237.25h7.4v7.45h-7.4z M403.78,237.21h7.4v7.45h-7.4z M404.37,237.16h7.4v7.45h-7.4z M404.96,237.13h7.4v7.45h-7.4z M405.55,237.09h7.4v7.45h-7.4z M406.14,237.07h7.4v7.45h-7.4z M406.74,237.04h7.4v7.45h-7.4z M407.33,237.02h7.4v7.45h-7.4z M407.92,237.00h7.4v7.45h-7.4z M408.52,236.98h7.4v7.45h-7.4z M409.11,236.96h7.4v7.45h-7.4z M409.70,236.95h7.4v7.45h-7.4z M410.30,236.93h7.4v7.45h-7.4z M410.89,236.92h7.4v7.45h-7.4z M411.49,236.90h7.4v7.45h-7.4z M412.08,236.89h7.4v7.45h-7.4z M412.68,236.88h7.4v7.45h-7.4z M413.28,236.86h7.4v7.45h-7.4z M413.87,236.84h7.4v7.45h-7.4z M414.47,236.82h7.4v7.45h-7.4z M415.07,236.80h7.4v7.45h-7.4z M415.67,236.78h7.4v7.45h-7.4z M416.27,236.75h7.4v7.45h-7.4z M416.87,236.72h7.4v7.45h-7.4z M417.47,236.69h7.4v7.45h-7.4z M418.07,236.65h7.4v7.45h-7.4z M418.86,236.58h7.4v7.45h-7.4z M419.88,236.49h7.4v7.45h-7.4z M421.21,236.34h7.4v7.45h-7.4z M425.25,235.55h7.4v7.45h-7.4z M432.35,234.95h7.4v7.45h-7.4z M441.75,234.14h7.4v7.45h-7.4z M452.55,233.20h7.4v7.45h-7.4z M465.65,232.03h7.4v7.45h-7.4z M479.85,230.72h7.4v7.45h-7.4z M494.25,229.32h7.4v7.45h-7.4z M508.66,227.85h7.4v7.45h-7.4z M523.07,226.30h7.4v7.45h-7.4z M537.48,224.65h7.4v7.45h-7.4z M551.89,222.89h7.4v7.45h-7.4z M566.30,221.01h7.4v7.45h-7.4z M580.71,218.99h7.4v7.45h-7.4z M595.12,216.82h7.4v7.45h-7.4z M609.53,214.48h7.4v7.45h-7.4z M623.94,211.94h7.4v7.45h-7.4z M638.35,209.20h7.4v7.45h-7.4z M652.76,206.23h7.4v7.45h-7.4z M667.17,203.01h7.4v7.45h-7.4z M681.58,199.52h7.4v7.45h-7.4z M695.99,195.74h7.4v7.45h-7.4z M710.40,191.66h7.4v7.45h-7.4z" fill="#f00"/>
<path d="M461.53,411.65a3.5,3.5 0 1,0 7,0a3.5,3.5 0 1,0 -7,0 M461.95,411.29a3.5,3.5 0 1,0 7,0a3.5,3.5 0 1,0 -7,0 M462.37,410.93a3.5,3.5 0 1,0 7,0a3.5,3.5 0 1,0 -7,0 M462.78,410.57a3.5,3.5 0 1,0 7,0a3.5,3.5 0 1,0 -7,0 M463.19,410.21a3.5,3.5 0 1,0 7,0a3.5,3.5 0 1,0 -7,0 M463.61,409.85a3.5,3.5 0 1,0 7,0a3.5,3.5 0 1,0 -7,0 M464.02,409.48a3.5,3.5 0 1,0 7,0a3.5,3.5 0 1,0 -7,0 M464.43,409.12a3.5,3.5 0 1,0 7,0a3.5,3.5 0 1,0 -7,0 M464.84,408.75a3.5,3.5 0 1,0 7,0a3.5,3.5 0 1,0 -7,0 M465.25,408.39a3.5,3.5 0 1,0 7,0a3.5,3.5 0 1,0 -7,0 M465.66,408.02a3.5,3.5 0 1,0 7,0a3.5,3.5 0 1,0 -7,0 M466.07,407.65a3.5,3.5 0 1,0 7,0a3.5,3.5 0 1,0 -7,0 M466.48,407.28a3.5,3.5 0 1,0 7,0a3.5,3.5 0 1,0 -7,0 M466.88,406.91a3.5,3.5 0 1,0 7,0a3.5,3.5 0 1,0 -7,0 M467.29,406.54a3.5,3.5 0 1,0 7,0a3.5,3.5 0 1,0 -7,0 M467.69,406.17a3.5,3.5 0 1,0 7,0a3.5,3.5 0 1,0 -7,0 M468.10,405.79a3.5,3.5 0 1,0 7,0a3.5,3.5 0 1,0 -7,0 M468.50,405.42a3.5,3.5 0 1,0 7,0a3.5,3.5 0 1,0 -7,0 M468.90,405.04a3.5,3.5 0 1,0 7,0a3.5,3.5 0 1,0 -7,0 M469.30,404.66a3.5,3.5 0 1,0 7,0a3.5,3.5 0 1,0 -7,0 M469.70,404.29a3.5,3.5 0 1,0 7,0a3.5,3.5 0 1,0 -7,0 M470.10,403.91a3.5,3.5 0 1,0 7,0a3.5,3.5 0 1,0 -7,0 M470.50,403.53a3.5,3.5 0 1,0 7,0a3.5,3.5 0 1,0 -7,0 M470.89,403.15a3.5,3.5 0 1,0 7,0a3.5,3.5 0 1,0 -7,0 M471.29,402.77a3.5,3.5 0 1,0 7,0a3.5,3.5 0 1,0 -7,0 M471.69,402.38a3.5,3.5 0 1,0 7,0a3.5,3.5 0 1,0 -7,0 M472.08,402.00a3.5,3.5 0 1,0 7,0a3.5,3.5 0 1,0 -7,0 M472.47,401.62a3.5,3.5 0 1,0 7,0a3.5,3.5 0 1,0 -7,0 M472.87,401.23a3.5,3.5 0 1,0 7,0a3.5,3.5 0 1,0 -7,0 M473.26,400.84a3.5,3.5 0 1,0 7,0a3.5,3.5 0 1,0 -7,0 M473.65,400.46a3.5,3.5 0 1,0 7,0a3.5,3.5 0 1,0 -7,0 M474.04,400.07a3.5,3.5 0 1,0 7,0a3.5,3.5 0 1,0 -7,0 M474.43,399.68a3.5,3.5 0 1,0 7,0a3.5,3.5 0 1,0 -7,0 M474.81,399.29a3.5,3.5 0 1,0 7,0a3.5,3.5 0 1,0 -7,0 M475.20,398.90a3.5,3.5 0 1,0 7,0a3.5,3.5 0 1,0 -7,0 M475.59,398.51a3.5,3.5 0 1,0 7,0a3.5,3.5 0 1,0 -7,0 M475.97,398.11a3.5,3.5 0 1,0 7,0a3.5,3.5 0 1,0 -7,0 M476.36,397.72a3.5,3.5 0 1,0 7,0a3.5,3.5 0 1,0 -7,0 M476.74,397.33a3.5,3.5 0 1,0 7,0a3.5,3.5 0 1,0 -7,0 M477.12,396.93a3.5,3.5 0 1,0 7,0a3.5,3.5 0 1,0 -7,0 M477.50,396.53a3.5,3.5 0 1,0 7,0a3.5,3.5 0 1,0 -7,0 M477.88,396.14a3.5,3.5 0 1,0 7,0a3.5,3.5 0 1,0 -7,0 M478.26,395.74a3.5,3.5 0 1,0 7,0a3.5,3.5 0 1,0 -7,0 M478.64,395.34a3.5,3.5 0 1,0 7,0a3.5,3.5 0 1,0 -7,0 M479.02,394.94a3.5,3.5 0 1,0 7,0a3.5,3.5 0 1,0 -7,0 M479.39,394.54a3.5,3.5 0 1,0 7,0a3.5,3.5 0 1,0 -7,0 M479.77,394.13a3.5,3.5 0 1,0 7,0a3.5,3.5 0 1,0 -7,0 M480.14,393.73a3.5,3.5 0 1,0 7,0a3.5,3.5 0 1,0 -7,0 M480.52,393.33a3.5,3.5 0 1,0 7,0a3.5,3.5 0 1,0 -7,0 M480.89,392.92a3.5,3.5 0 1,0 7,0a3.5,3.5 0 1,0 -7,0 M481.26,392.52a3.5,3.5 0 1,0 7,0a3.5,3.5 0 1,0 -7,0 M481.63,392.11a3.5,3.5 0 1,0 7,0a3.5,3.5 0 1,0 -7,0 M482.00,391.70a3.5,3.5 0 1,0 7,0a3.5,3.5 0 1,0 -7,0 M482.37,391.30a3.5,3.5 0 1,0 7,0a3.5,3.5 0 1,0 -7,0 M482.74,390.89a3.5,3.5 0 1,0 7,0a3.5,3.5 0 1,0 -7,0 M483.10,390.48a3.5,3.5 0 1,0 7,0a3.5,3.5 0 1,0 -7,0 M483.47,390.07a3.5,3.5 0 1,0 7,0a3.5,3.5 0 1,0 -7,0 M483.83,389.65a3.5,3.5 0 1,0 7,0a3.5,3.5 0 1,0 -7,0 M484.20,389.24a3.5,3.5 0 1,0 7,0a3.5,3.5 0 1,0 -7,0 M484.56,388.83a3.5,3.5 0 1,0 7,0a3.5,3.5 0 1,0 -7,0 M484.92,388.41a3.5,3.5 0 1,0 7,0a3.5,3.5 0 1,0 -7,0 M485.28,388.00a3.5,3.5 0 1,0 7,0a3.5,3.5 0 1,0 -7,0 M485.64,387.58a3.5,3.5 0 1,0 7,0a3.5,3.5 0 1,0 -7,0 M486.00,387.17a3.5,3.5 0 1,0 7,0a3.5,3.5 0 1,0 -7,0 M486.36,386.75a3.5,3.5 0 1,0 7,0a3.5,3.5 0 1,0 -7,0 M486.72,386.33a3.5,3.5 0 1,0 7,0a3.5,3.5 0 1,0 -7,0 M487.07,385.91a3.5,3.5 0 1,0 7,0a3.5,3.5 0 1,0 -7,0 M487.43,385.49a3.5,3.5 0 1,0 7,0a3.5,3.5 0 1,0 -7,0 M487.78,385.07a3.5,3.5 0 1,0 7,0a3.5,3.5 0 1,0 -7,0 M488.13,384.65a3.5,3.5 0 1,0 7,0a3.5,3.5 0 1,0 -7,0 M488.48,384.22a3.5,3.5 0 1,0 7,0a3.5,3.5 0 1,0 -7,0 M488.84,383.80a3.5,3.5 0 1,0 7,0a3.5,3.5 0 1,0 -7,0 M489.19,383.38a3.5,3.5 0 1,0 7,0a3.5,3.5 0 1,0 -7,0 M489.53,382.95a3.5,3.5 0 1,0 7,0a3.5,3.5 0 1,0 -7,0 M489.88,382.52a3.5,3.5 0 1,0 7,0a3.5,3.5 0 1,0 -7,0 M490.23,382.10a3.5,3.5 0 1,0 7,0a3.5,3.5 0 1,0 -7,0 M490.57,381.67a3.5,3.5 0 1,0 7,0a3.5,3.5 0 1,0 -7,0 M490.92,381.24a3.5,3.5 0 1,0 7,0a3.5,3.5 0 1,0 -7,0 M491.26,380.81a3.5,3.5 0 1,0 7,0a3.5,3.5 0 1,0 -7,0 M491.61,380.38a3.5,3.5 0 1,0 7,0a3.5,3.5 0 1,0 -7,0 M491.95,379.95a3.5,3.5 0 1,0 7,0a3.5,3.5 0 1,0 -7,0 M492.29,379.52a3.5,3.5 0 1,0 7,0a3.5,3.5 0 1,0 -7,0 M492.63,379.09a3.5,3.5 0 1,0 7,0a3.5,3.5 0 1,0 -7,0 M492.97,378.65a3.5,3.5 0 1,0 7,0a3.5,3.5 0 1,0 -7,0 M493.30,378.22a3.5,3.5 0 1,0 7,0a3.5,3.5 0 1,0 -7,0 M493.64,377.78a3.5,3.5 0 1,0 7,0a3.5,3.5 0 1,0 -7,0 M493.98,377.35a3.5,3.5 0 1,0 7,0a3.5,3.5 0 1,0 -7,0 M494.31,376.91a3.5,3.5 0 1,0 7,0a3.5,3.5 0 1,0 -7,0 M494.65,376.48a3.5,3.5 0 1,0 7,0a3.5,3.5 0 1,0 -7,0 M494.98,376.04a3.5,3.5 0 1,0 7,0a3.5,3.5 0 1,0 -7,0 M495.31,375.60a3.5,3.5 0 1,0 7,0a3.5,3.5 0 1,0 -7,0 M495.64,375.16a3.5,3.5 0 1,0 7,0a3.5,3.5 0 1,0 -7,0 M495.97,374.72a3.5,3.5 0 1,0 7,0a3.5,3.5 0 1,0 -7,0 M496.30,374.28a3.5,3.5 0 1,0 7,0a3.5,3.5 0 1,0 -7,0 M496.63,373.84a3.5,3.5 0 1,0 7,0a3.5,3.5 0 1,0 -7,0 M496.95,373.39a3.5,3.5 0 1,0 7,0a3.5,3.5 0 1,0 -7,0 M497.28,372.95a3.5,3.5 0 1,0 7,0a3.5,3.5 0 1,0 -7,0 M497.60,372.51a3.5,3.5 0 1,0 7,0a3.5,3.5 0 1,0 -7,0 M497.93,372.06a3.5,3.5 0 1,0 7,0a3.5,3.5 0 1,0 -7,0 M498.25,371.62a3.5,3.5 0 1,0 7,0a3.5,3.5 0 1,0 -7,0 M498.57,371.17a3.5,3.5 0 1,0 7,0a3.5,3.5 0 1,0 -7,0 M498.89,370.72a3.5,3.5 0 1,0 7,0a3.5,3.5 0 1,0 -7,0 M499.21,370.27a3.5,3.5 0 1,0 7,0a3.5,3.5 0 1,0 -7,0 M499.53,369.83a3.5,3.5 0 1,0 7,0a3.5,3.5 0 1,0 -7,0 M499.84,369.38a3.5,3.5 0 1,0 7,0a3.5,3.5 0 1,0 -7,0 M500.16,368.93a3.5,3.5 0 1,0 7,0a3.5,3.5 0 1,0 -7,0 M500.48,368.47a3.5,3.5 0 1,0 7,0a3.5,3.5 0 1,0 -7,0 M500.79,368.02a3.5,3.5 0 1,0 7,0a3.5,3.5 0 1,0 -7,0 M501.10,367.57a3.5,3.5 0 1,0 7,0a3.5,3.5 0 1,0 -7,0 M501.41,367.12a3.5,3.5 0 1,0 7,0a3.5,3.5 0 1,0 -7,0 M501.73,366.66a3.5,3.5 0 1,0 7,0a3.5,3.5 0 1,0 -7,0 M502.04,366.21a3.5,3.5 0 1,0 7,0a3.5,3.5 0 1,0 -7,0 M502.34,365.76a3.5,3.5 0 1,0 7,0a3.5,3.5 0 1,0 -7,0 M502.65,365.30a3.5,3.5 0 1,0 7,0a3.5,3.5 0 1,0 -7,0 M502.96,364.84a3.5,3.5 0 1,0 7,0a3.5,3.5 0 1,0 -7,0 M503.26,364.39a3.5,3.5 0 1,0 7,0a3.5,3.5 0 1,0 -7,0 M503.57,363.93a3.5,3.5 0 1,0 7,0a3.5,3.5 0 1,0 -7,0 M503.87,363.47a3.5,3.5 0 1,0 7,0a3.5,3.5 0 1,0 -7,0 M504.18,363.01a3.5,3.5 0 1,0 7,0a3.5,3.5 0 1,0 -7,0 M504.48,362.55a3.5,3.5 0 1,0 7,0a3.5,3.5 0 1,0 -7,0 M504.78,362.09a3.5,3.5 0 1,0 7,0a3.5,3.5 0 1,0 -7,0 M505.08,361.63a3.5,3.5 0 1,0 7,0a3.5,3.5 0 1,0 -7,0 M505.37,361.17a3.5,3.5 0 1,0 7,0a3.5,3.5 0 1,0 -7,0 M505.67,360.70a3.5,3.5 0 1,0 7,0a3.5,3.5 0 1,0 -7,0 M505.97,360.24a3.5,3.5 0 1,0 7,0a3.5,3.5 0 1,0 -7,0 M506.26,359.78a3.5,3.5 0 1,0 7,0a3.5,3.5 0 1,0 -7,0 M506.56,359.31a3.5,3.5 0 1,0 7,0a3.5,3.5 0 1,0 -7,0 M506.85,358.85a3.5,3.5 0 1,0 7,0a3.5,3.5 0 1,0 -7,0 M507.14,358.38a3.5,3.5 0 1,0 7,0a3.5,3.5 0 1,0 -7,0 M507.43,357.91a3.5,3.5 0 1,0 7,0a3.5,3.5 0 1,0 -7,0 M507.72,357.45a3.5,3.5 0 1,0 7,0a3.5,3.5 0 1,0 -7,0 M508.01,356.98a3.5,3.5 0 1,0 7,0a3.5,3.5 0 1,0 -7,0 M508.30,356.51a3.5,3.5 0 1,0 7,0a3.5,3.5 0 1,0 -7,0 M508.59,356.04a3.5,3.5 0 1,0 7,0a3.5,3.5 0 1,0 -7,0 M508.87,355.57a3.5,3.5 0 1,0 7,0a3.5,3.5 0 1,0 -7,0 M509.16,355.10a3.5,3.5 0 1,0 7,0a3.5,3.5 0 1,0 -7,0 M509.44,354.63a3.5,3.5 0 1,0 7,0a3.5,3.5 0 1,0 -7,0 M509.72,354.16a3.5,3.5 0 1,0 7,0a3.5,3.5 0 1,0 -7,0 M510.00,353.68a3.5,3.5 0 1,0 7,0a3.5,3.5 0 1,0 -7,0 M510.29,353.21a3.5,3.5 0 1,0 7,0a3.5,3.5 0 1,0 -7,0 M510.56,352.74a3.5,3.5 0 1,0 7,0a3.5,3.5 0 1,0 -7,0 M510.84,352.26a3.5,3.5 0 1,0 7,0a3.5,3.5 0 1,0 -7,0 M511.12,351.79a3.5,3.5 0 1,0 7,0a3.5,3.5 0 1,0 -7,0 M511.40,351.31a3.5,3.5 0 1,0 7,0a3.5,3.5 0 1,0 -7,0 M511.67,350.83a3.5,3.5 0 1,0 7,0a3.5,3.5 0 1,0 -7,0 M511.94,350.36a3.5,3.5 0 1,0 7,0a3.5,3.5 0 1,0 -7,0 M512.22,349.88a3.5,3.5 0 1,0 7,0a3.5,3.5 0 1,0 -7,0 M512.49,349.40a3.5,3.5 0 1,0 7,0a3.5,3.5 0 1,0 -7,0 M512.76,348.92a3.5,3.5 0 1,0 7,0a3.5,3.5 0 1,0 -7,0 M513.03,348.44a3.5,3.5 0 1,0 7,0a3.5,3.5 0 1,0 -7,0 M513.30,347.96a3.5,3.5 0 1,0 7,0a3.5,3.5 0 1,0 -7,0 M513.57,347.48a3.5,3.5 0 1,0 7,0a3.5,3.5 0 1,0 -7,0 M513.83,347.00a3.5,3.5 0 1,0 7,0a3.5,3.5 0 1,0 -7,0 M514.10,346.52a3.5,3.5 0 1,0 7,0a3.5,3.5 0 1,0 -7,0 M514.36,346.04a3.5,3.5 0 1,0 7,0a3.5,3.5 0 1,0 -7,0 M514.63,345.55a3.5,3.5 0 1,0 7,0a3.5,3.5 0 1,0 -7,0 M514.89,345.07a3.5,3.5 0 1,0 7,0a3.5,3.5 0 1,0 -7,0 M515.15,344.59a3.5,3.5 0 1,0 7,0a3.5,3.5 0 1,0 -7,0 M515.41,344.10a3.5,3.5 0 1,0 7,0a3.5,3.5 0 1,0 -7,0 M515.67,343.62a3.5,3.5 0 1,0 7,0a3.5,3.5 0 1,0 -7,0 M515.92,343.13a3.5,3.5 0 1,0 7,0a3.5,3.5 0 1,0 -7,0 M516.18,342.64a3.5,3.5 0 1,0 7,0a3.5,3.5 0 1,0 -7,0 M516.44,342.16a3.5,3.5 0 1,0 7,0a3.5,3.5 0 1,0 -7,0 M516.69,341.67a3.5,3.5 0 1,0 7,0a3.5,3.5 0 1,0 -7,0 M516.95,341.18a3.5,3.5 0 1,0 7,0a3.5,3.5 0 1,0 -7,0 M517.20,340.69a3.5,3.5 0 1,0 7,0a3.5,3.5 0 1,0 -7,0 M517.45,340.20a3.5,3.5 0 1,0 7,0a3.5,3.5 0 1,0 -7,0 M517.70,339.71a3.5,3.5 0 1,0 7,0a3.5,3.5 0 1,0 -7,0 M517.95,339.22a3.5,3.5 0 1,0 7,0a3.5,3.5 0 1,0 -7,0 M518.20,338.73a3.5,3.5 0 1,0 7,0a3.5,3.5 0 1,0 -7,0 M518.44,338.24a3.5,3.5 0 1,0 7,0a3.5,3.5 0 1,0 -7,0 M518.69,337.75a3.5,3.5 0 1,0 7,0a3.5,3.5 0 1,0 -7,0 M518.93,337.26a3.5,3.5 0 1,0 7,0a3.5,3.5 0 1,0 -7,0 M519.18,336.76a3.5,3.5 0 1,0 7,0a3.5,3.5 0 1,0 -7,0 M519.42,336.27a3.5,3.5 0 1,0 7,0a3.5,3.5 0 1,0 -7,0 M519.66,335.78a3.5,3.5 0 1,0 7,0a3.5,3.5 0 1,0 -7,0 M519.90,335.28a3.5,3.5 0 1,0 7,0a3.5,3.5 0 1,0 -7,0 M520.14,334.79a3.5,3.5 0 1,0 7,0a3.5,3.5 0 1,0 -7,0 M520.38,334.29a3.5,3.5 0 1,0 7,0a3.5,3.5 0 1,0 -7,0 M520.62,333.80a3.5,3.5 0 1,0 7,0a3.5,3.5 0 1,0 -7,0 M520.85,333.30a3.5,3.5 0 1,0 7,0a3.5,3.5 0 1,0 -7,0 M521.09,332.80a3.5,3.5 0 1,0 7,0a3.5,3.5 0 1,0 -7,0 M521.32,332.30a3.5,3.5 0 1,0 7,0a3.5,3.5 0 1,0 -7,0 M521.56,331.81a3.5,3.5 0 1,0 7,0a3.5,3.5 0 1,0 -7,0 M521.79,331.31a3.5,3.5 0 1,0 7,0a3.5,3.5 0 1,0 -7,0 M522.02,330.81a3.5,3.5 0 1,0 7,0a3.5,3.5 0 1,0 -7,0 M522.25,330.31a3.5,3.5 0 1,0 7,0a3.5,3.5 0 1,0 -7,0 M522.48,329.81a3.5,3.5 0 1,0 7,0a3.5,3.5 0 1,0 -7,0 M522.70,329.31a3.5,3.5 0 1,0 7,0a3.5,3.5 0 1,0 -7,0 M522.93,328.81a3.5,3.5 0 1,0 7,0a3.5,3.5 0 1,0 -7,0 M523.16,328.30a3.5,3.5 0 1,0 7,0a3.5,3.5 0 1,0 -7,0 M523.38,327.80a3.5,3.5 0 1,0 7,0a3.5,3.5 0 1,0 -7,0 M523.60,327.30a3.5,3.5 0 1,0 7,0a3.5,3.5 0 1,0 -7,0 M523.83,326.80a3.5,3.5 0 1,0 7,0a3.5,3.5 0 1,0 -7,0 M524.05,326.29a3.5,3.5 0 1,0 7,0a3.5,3.5 0 1,0 -7,0 M524.27,325.79a3.5,3.5 0 1,0 7,0a3.5,3.5 0 1,0 -7,0 M524.48,325.28a3.5,3.5 0 1,0 7,0a3.5,3.5 0 1,0 -7,0 M524.70,324.78a3.5,3.5 0 1,0 7,0a3.5,3.5 0 1,0 -7,0 M524.92,324.27a3.5,3.5 0 1,0 7,0a3.5,3.5 0 1,0 -7,0 M525.13,323.77a3.5,3.5 0 1,0 7,0a3.5,3.5 0 1,0 -7,0 M525.35,323.26a3.5,3.5 0 1,0 7,0a3.5,3.5 0 1,0 -7,0 M525.56,322.75a3.5,3.5 0 1,0 7,0a3.5,3.5 0 1,0 -7,0 M525.77,322.25a3.5,3.5 0 1,0 7,0a3.5,3.5 0 1,0 -7,0 M525.99,321.74a3.5,3.5 0 1,0 7,0a3.5,3.5 0 1,0 -7,0 M526.19,321.23a3.5,3.5 0 1,0 7,0a3.5,3.5 0 1,0 -7,0 M526.40,320.72a3.5,3.5 0 1,0 7,0a3.5,3.5 0 1,0 -7,0 M526.61,320.21a3.5,3.5 0 1,0 7,0a3.5,3.5 0 1,0 -7,0 M526.82,319.70a3.5,3.5 0 1,0 7,0a3.5,3.5 0 1,0 -7,0 M527.02,319.19a3.5,3.5 0 1,0 7,0a3.5,3.5 0 1,0 -7,0 M527.23,318.68a3.5,3.5 0 1,0 7,0a3.5,3.5 0 1,0 -7,0 M527.43,318.17a3.5,3.5 0 1,0 7,0a3.5,3.5 0 1,0 -7,0 M527.63,317.66a3.5,3.5 0 1,0 7,0a3.5,3.5 0 1,0 -7,0 M527.84,317.15a3.5,3.5 0 1,0 7,0a3.5,3.5 0 1,0 -7,0 M528.04,316.63a3.5,3.5 0 1,0 7,0a3.5,3.5 0 1,0 -7,0 M528.23,316.12a3.5,3.5 0 1,0 7,0a3.5,3.5 0 1,0 -7,0 M528.43,315.61a3.5,3.5 0 1,0 7,0a3.5,3.5 0 1,0 -7,0 M528.63,315.09a3.5,3.5 0 1,0 7,0a3.5,3.5 0 1,0 -7,0 M528.82,314.58a3.5,3.5 0 1,0 7,0a3.5,3.5 0 1,0 -7,0 M529.02,314.07a3.5,3.5 0 1,0 7,0a3.5,3.5 0 1,0 -7,0 M529.21,313.55a3.5,3.5 0 1,0 7,0a3.5,3.5 0 1,0 -7,0 M529.41,313.04a3.5,3.5 0 1,0 7,0a3.5,3.5 0 1,0 -7,0 M529.60,312.52a3.5,3.5 0 1,0 7,0a3.5,3.5 0 1,0 -7,0 M529.79,312.00a3.5,3.5 0 1,0 7,0a3.5,3.5 0 1,0 -7,0 M529.98,311.49a3.5,3.5 0 1,0 7,0a3.5,3.5 0 1,0 -7,0 M530.16,310.97a3.5,3.5 0 1,0 7,0a3.5,3.5 0 1,0 -7,0 M530.35,310.45a3.5,3.5 0 1,0 7,0a3.5,3.5 0 1,0 -7,0 M530.54,309.94a3.5,3.5 0 1,0 7,0a3.5,3.5 0 1,0 -7,0 M530.72,309.42a3.5,3.5 0 1,0 7,0a3.5,3.5 0 1,0 -7,0 M530.90,308.90a3.5,3.5 0 1,0 7,0a3.5,3.5 0 1,0 -7,0 M531.09,308.38a3.5,3.5 0 1,0 7,0a3.5,3.5 0 1,0 -7,0 M531.27,307.86a3.5,3.5 0 1,0 7,0a3.5,3.5 0 1,0 -7,0 M531.45,307.34a3.5,3.5 0 1,0 7,0a3.5,3.5 0 1,0 -7,0 M531.63,306.82a3.5,3.5 0 1,0 7,0a3.5,3.5 0 1,0 -7,0 M531.81,306.30a3.5,3.5 0 1,0 7,0a3.5,3.5 0 1,0 -7,0 M531.98,305.78a3.5,3.5 0 1,0 7,0a3.5,3.5 0 1,0 -7,0 M532.16,305.26a3.5,3.5 0 1,0 7,0a3.5,3.5 0 1,0 -7,0 M532.33,304.74a3.5,3.5 0 1,0 7,0a3.5,3.5 0 1,0 -7,0 M532.51,304.22a3.5,3.5 0 1,0 7,0a3.5,3.5 0 1,0 -7,0 M532.68,303.69a3.5,3.5 0 1,0 7,0a3.5,3.5 0 1,0 -7,0 M532.85,303.17a3.5,3.5 0 1,0 7,0a3.5,3.5 0 1,0 -7,0 M533.02,302.65a3.5,3.5 0 1,0 7,0a3.5,3.5 0 1,0 -7,0 M533.19,302.12a3.5,3.5 0 1,0 7,0a3.5,3.5 0 1,0 -7,0 M533.36,301.60a3.5,3.5 0 1,0 7,0a3.5,3.5 0 1,0 -7,0 M533.53,301.08a3.5,3.5 0 1,0 7,0a3.5,3.5 0 1,0 -7,0 M533.69,300.55a3.5,3.5 0 1,0 7,0a3.5,3.5 0 1,0 -7,0 M533.86,300.03a3.5,3.5 0 1,0 7,0a3.5,3.5 0 1,0 -7,0 M534.02,299.50a3.5,3.5 0 1,0 7,0a3.5,3.5 0 1,0 -7,0 M534.18,298.98a3.5,3.5 0 1,0 7,0a3.5,3.5 0 1,0 -7,0 M534.34,298.45a3.5,3.5 0 1,0 7,0a3.5,3.5 0 1,0 -7,0 M534.50,297.93a3.5,3.5 0 1,0 7,0a3.5,3.5 0 1,0 -7,0 M534.66,297.40a3.5,3.5 0 1,0 7,0a3.5,3.5 0 1,0 -7,0 M534.82,296.87a3.5,3.5 0 1,0 7,0a3.5,3.5 0 1,0 -7,0 M534.98,296.35a3.5,3.5 0 1,0 7,0a3.5,3.5 0 1,0 -7,0 M535.14,295.82a3.5,3.5 0 1,0 7,0a3.5,3.5 0 1,0 -7,0 M535.29,295.29a3.5,3.5 0 1,0 7,0a3.5,3.5 0 1,0 -7,0 M535.44,294.76a3.5,3.5 0 1,0 7,0a3.5,3.5 0 1,0 -7,0 M535.60,294.23a3.5,3.5 0 1,0 7,0a3.5,3.5 0 1,0 -7,0 M535.75,293.70a3.5,3.5 0 1,0 7,0a3.5,3.5 0 1,0 -7,0 M535.90,293.18a3.5,3.5 0 1,0 7,0a3.5,3.5 0 1,0 -7,0 M536.05,292.65a3.5,3.5 0 1,0 7,0a3.5,3.5 0 1,0 -7,0 M536.20,292.12a3.5,3.5 0 1,0 7,0a3.5,3.5 0 1,0 -7,0 M536.34,291.59a3.5,3.5 0 1,0 7,0a3.5,3.5 0 1,0 -7,0 M536.49,291.06a3.5,3.5 0 1,0 7,0a3.5,3.5 0 1,0 -7,0 M536.63,290.53a3.5,3.5 0 1,0 7,0a3.5,3.5 0 1,0 -7,0 M536.78,290.00a3.5,3.5 0 1,0 7,0a3.5,3.5 0 1,0 -7,0 M536.92,289.46a3.5,3.5 0 1,0 7,0a3.5,3.5 0 1,0 -7,0 M537.06,288.93a3.5,3.5 0 1,0 7,0a3.5,3.5 0 1,0 -7,0 M537.20,288.40a3.5,3.5 0 1,0 7,0a3.5,3.5 0 1,0 -7,0 M537.34,287.87a3.5,3.5 0 1,0 7,0a3.5,3.5 0 1,0 -7,0 M537.48,287.34a3.5,3.5 0 1,0 7,0a3.5,3.5 0 1,0 -7,0 M537.62,286.80a3.5,3.5 0 1,0 7,0a3.5,3.5 0 1,0 -7,0 M537.76,286.27a3.5,3.5 0 1,0 7,0a3.5,3.5 0 1,0 -7,0 M537.90,285.74a3.5,3.5 0 1,0 7,0a3.5,3.5 0 1,0 -7,0 M538.03,285.21a3.5,3.5 0 1,0 7,0a3.5,3.5 0 1,0 -7,0 M538.17,284.67a3.5,3.5 0 1,0 7,0a3.5,3.5 0 1,0 -7,0 M538.30,284.14a3.5,3.5 0 1,0 7,0a3.5,3.5 0 1,0 -7,0 M538.44,283.61a3.5,3.5 0 1,0 7,0a3.5,3.5 0 1,0 -7,0 M538.57,283.07a3.5,3.5 0 1,0 7,0a3.5,3.5 0 1,0 -7,0 M538.70,282.54a3.5,3.5 0 1,0 7,0a3.5,3.5 0 1,0 -7,0 M538.84,282.01a3.5,3.5 0 1,0 7,0a3.5,3.5 0 1,0 -7,0 M538.97,281.47a3.5,3.5 0 1,0 7,0a3.5,3.5 0 1,0 -7,0 M539.10,280.94a3.5,3.5 0 1,0 7,0a3.5,3.5 0 1,0 -7,0 M539.23,280.40a3.5,3.5 0 1,0 7,0a3.5,3.5 0 1,0 -7,0 M539.36,279.87a3.5,3.5 0 1,0 7,0a3.5,3.5 0 1,0 -7,0 M539.49,279.34a3.5,3.5 0 1,0 7,0a3.5,3.5 0 1,0 -7,0 M539.63,278.80a3.5,3.5 0 1,0 7,0a3.5,3.5 0 1,0 -7,0 M539.76,278.27a3.5,3.5 0 1,0 7,0a3.5,3.5 0 1,0 -7,0 M539.89,277.73a3.5,3.5 0 1,0 7,0a3.5,3.5 0 1,0 -7,0 M540.02,277.20a3.5,3.5 0 1,0 7,0a3.5,3.5 0 1,0 -7,0 M540.15,276.67a3.5,3.5 0 1,0 7,0a3.5,3.5 0 1,0 -7,0 M540.28,276.13a3.5,3.5 0 1,0 7,0a3.5,3.5 0 1,0 -7,0 M540.41,275.60a3.5,3.5 0 1,0 7,0a3.5,3.5 0 1,0 -7,0 M540.54,275.06a3.5,3.5 0 1,0 7,0a3.5,3.5 0 1,0 -7,0 M540.67,274.53a3.5,3.5 0 1,0 7,0a3.5,3.5 0 1,0 -7,0 M540.80,273.99a3.5,3.5 0 1,0 7,0a3.5,3.5 0 1,0 -7,0 M540.93,273.46a3.5,3.5 0 1,0 7,0a3.5,3.5 0 1,0 -7,0 M541.06,272.93a3.5,3.5 0 1,0 7,0a3.5,3.5 0 1,0 -7,0 M541.20,272.39a3.5,3.5 0 1,0 7,0a3.5,3.5 0 1,0 -7,0 M541.33,271.86a3.5,3.5 0 1,0 7,0a3.5,3.5 0 1,0 -7,0 M541.46,271.32a3.5,3.5 0 1,0 7,0a3.5,3.5 0 1,0 -7,0 M541.59,270.79a3.5,3.5 0 1,0 7,0a3.5,3.5 0 1,0 -7,0 M541.73,270.26a3.5,3.5 0 1,0 7,0a3.5,3.5 0 1,0 -7,0 M541.86,269.72a3.5,3.5 0 1,0 7,0a3.5,3.5 0 1,0 -7,0 M542.00,269.19a3.5,3.5 0 1,0 7,0a3.5,3.5 0 1,0 -7,0 M542.13,268.66a3.5,3.5 0 1,0 7,0a3.5,3.5 0 1,0 -7,0 M542.27,268.12a3.5,3.5 0 1,0 7,0a3.5,3.5 0 1,0 -7,0 M542.40,267.59a3.5,3.5 0 1,0 7,0a3.5,3.5 0 1,0 -7,0 M542.54,267.06a3.5,3.5 0 1,0 7,0a3.5,3.5 0 1,0 -7,0 M542.68,266.53a3.5,3.5 0 1,0 7,0a3.5,3.5 0 1,0 -7,0 M542.82,265.99a3.5,3.5 0 1,0 7,0a3.5,3.5 0 1,0 -7,0 M542.96,265.46a3.5,3.5 0 1,0 7,0a3.5,3.5 0 1,0 -7,0 M543.10,264.93a3.5,3.5 0 1,0 7,0a3.5,3.5 0 1,0 -7,0 M543.24,264.40a3.5,3.5 0 1,0 7,0a3.5,3.5 0 1,0 -7,0 M543.38,263.87a3.5,3.5 0 1,0 7,0a3.5,3.5 0 1,0 -7,0 M543.52,263.34a3.5,3.5 0 1,0 7,0a3.5,3.5 0 1,0 -7,0 M543.67,262.81a3.5,3.5 0 1,0 7,0a3.5,3.5 0 1,0 -7,0 M543.81,262.27a3.5,3.5 0 1,0 7,0a3.5,3.5 0 1,0 -7,0 M543.96,261.74a3.5,3.5 0 1,0 7,0a3.5,3.5 0 1,0 -7,0 M544.11,261.21a3.5,3.5 0 1,0 7,0a3.5,3.5 0 1,0 -7,0 M544.25,260.69a3.5,3.5 0 1,0 7,0a3.5,3.5 0 1,0 -7,0 M544.40,260.16a3.5,3.5 0 1,0 7,0a3.5,3.5 0 1,0 -7,0 M544.56,259.63a3.5,3.5 0 1,0 7,0a3.5,3.5 0 1,0 -7,0 M544.71,259.10a3.5,3.5 0 1,0 7,0a3.5,3.5 0 1,0 -7,0 M544.86,258.57a3.5,3.5 0 1,0 7,0a3.5,3.5 0 1,0 -7,0 M545.02,258.04a3.5,3.5 0 1,0 7,0a3.5,3.5 0 1,0 -7,0 M545.18,257.52a3.5,3.5 0 1,0 7,0a3.5,3.5 0 1,0 -7,0 M545.33,256.99a3.5,3.5 0 1,0 7,0a3.5,3.5 0 1,0 -7,0 M545.49,256.46a3.5,3.5 0 1,0 7,0a3.5,3.5 0 1,0 -7,0 M545.66,255.94a3.5,3.5 0 1,0 7,0a3.5,3.5 0 1,0 -7,0 M545.82,255.41a3.5,3.5 0 1,0 7,0a3.5,3.5 0 1,0 -7,0 M545.98,254.89a3.5,3.5 0 1,0 7,0a3.5,3.5 0 1,0 -7,0 M546.15,254.36a3.5,3.5 0 1,0 7,0a3.5,3.5 0 1,0 -7,0 M546.32,253.84a3.5,3.5 0 1,0 7,0a3.5,3.5 0 1,0 -7,0 M546.49,253.32a3.5,3.5 0 1,0 7,0a3.5,3.5 0 1,0 -7,0 M546.66,252.79a3.5,3.5 0 1,0 7,0a3.5,3.5 0 1,0 -7,0 M546.83,252.27a3.5,3.5 0 1,0 7,0a3.5,3.5 0 1,0 -7,0 M547.01,251.75a3.5,3.5 0 1,0 7,0a3.5,3.5 0 1,0 -7,0 M547.19,251.23a3.5,3.5 0 1,0 7,0a3.5,3.5 0 1,0 -7,0 M547.37,250.71a3.5,3.5 0 1,0 7,0a3.5,3.5 0 1,0 -7,0 M547.55,250.19a3.5,3.5 0 1,0 7,0a3.5,3.5 0 1,0 -7,0 M547.73,249.67a3.5,3.5 0 1,0 7,0a3.5,3.5 0 1,0 -7,0 M547.92,249.16a3.5,3.5 0 1,0 7,0a3.5,3.5 0 1,0 -7,0 M548.11,248.64a3.5,3.5 0 1,0 7,0a3.5,3.5 0 1,0 -7,0 M548.30,248.12a3.5,3.5 0 1,0 7,0a3.5,3.5 0 1,0 -7,0 M548.49,247.61a3.5,3.5 0 1,0 7,0a3.5,3.5 0 1,0 -7,0 M548.69,247.09a3.5,3.5 0 1,0 7,0a3.5,3.5 0 1,0 -7,0 M548.88,246.58a3.5,3.5 0 1,0 7,0a3.5,3.5 0 1,0 -7,0 M549.08,246.07a3.5,3.5 0 1,0 7,0a3.5,3.5 0 1,0 -7,0 M549.28,245.56a3.5,3.5 0 1,0 7,0a3.5,3.5 0 1,0 -7,0 M549.49,245.05a3.5,3.5 0 1,0 7,0a3.5,3.5 0 1,0 -7,0 M549.69,244.54a3.5,3.5 0 1,0 7,0a3.5,3.5 0 1,0 -7,0 M549.90,244.03a3.5,3.5 0 1,0 7,0a3.5,3.5 0 1,0 -7,0 M550.12,243.52a3.5,3.5 0 1,0 7,0a3.5,3.5 0 1,0 -7,0 M550.33,243.01a3.5,3.5 0 1,0 7,0a3.5,3.5 0 1,0 -7,0 M550.55,242.51a3.5,3.5 0 1,0 7,0a3.5,3.5 0 1,0 -7,0 M550.77,242.00a3.5,3.5 0 1,0 7,0a3.5,3.5 0 1,0 -7,0 M550.99,241.50a3.5,3.5 0 1,0 7,0a3.5,3.5 0 1,0 -7,0 M551.21,241.00a3.5,3.5 0 1,0 7,0a3.5,3.5 0 1,0 -7,0 M551.44,240.50a3.5,3.5 0 1,0 7,0a3.5,3.5 0 1,0 -7,0 M551.67,240.00a3.5,3.5 0 1,0 7,0a3.5,3.5 0 1,0 -7,0 M551.90,239.50a3.5,3.5 0 1,0 7,0a3.5,3.5 0 1,0 -7,0 M552.14,239.00a3.5,3.5 0 1,0 7,0a3.5,3.5 0 1,0 -7,0 M552.38,238.51a3.5,3.5 0 1,0 7,0a3.5,3.5 0 1,0 -7,0 M552.62,238.01a3.5,3.5 0 1,0 7,0a3.5,3.5 0 1,0 -7,0 M552.86,237.52a3.5,3.5 0 1,0 7,0a3.5,3.5 0 1,0 -7,0 M553.11,237.03a3.5,3.5 0 1,0 7,0a3.5,3.5 0 1,0 -7,0 M553.36,236.54a3.5,3.5 0 1,0 7,0a3.5,3.5 0 1,0 -7,0 M553.61,236.05a3.5,3.5 0 1,0 7,0a3.5,3.5 0 1,0 -7,0 M553.87,235.56a3.5,3.5 0 1,0 7,0a3.5,3.5 0 1,0 -7,0 M554.13,235.08a3.5,3.5 0 1,0 7,0a3.5,3.5 0 1,0 -7,0 M554.39,234.60a3.5,3.5 0 1,0 7,0a3.5,3.5 0 1,0 -7,0 M554.66,234.11a3.5,3.5 0 1,0 7,0a3.5,3.5 0 1,0 -7,0 M554.93,233.63a3.5,3.5 0 1,0 7,0a3.5,3.5 0 1,0 -7,0 M555.20,233.16a3.5,3.5 0 1,0 7,0a3.5,3.5 0 1,0 -7,0 M555.47,232.68a3.5,3.5 0 1,0 7,0a3.5,3.5 0 1,0 -7,0 M555.75,232.20a3.5,3.5 0 1,0 7,0a3.5,3.5 0 1,0 -7,0 M556.03,231.73a3.5,3.5 0 1,0 7,0a3.5,3.5 0 1,0 -7,0 M556.31,231.26a3.5,3.5 0 1,0 7,0a3.5,3.5 0 1,0 -7,0 M556.60,230.79a3.5,3.5 0 1,0 7,0a3.5,3.5 0 1,0 -7,0 M556.90,230.33a3.5,3.5 0 1,0 7,0a3.5,3.5 0 1,0 -7,0 M557.19,229.86a3.5,3.5 0 1,0 7,0a3.5,3.5 0 1,0 -7,0 M557.49,229.40a3.5,3.5 0 1,0 7,0a3.5,3.5 0 1,0 -7,0 M557.80,228.94a3.5,3.5 0 1,0 7,0a3.5,3.5 0 1,0 -7,0 M558.11,228.49a3.5,3.5 0 1,0 7,0a3.5,3.5 0 1,0 -7,0 M558.42,228.04a3.5,3.5 0 1,0 7,0a3.5,3.5 0 1,0 -7,0 M558.74,227.59a3.5,3.5 0 1,0 7,0a3.5,3.5 0 1,0 -7,0 M559.07,227.15a3.5,3.5 0 1,0 7,0a3.5,3.5 0 1,0 -7,0 M559.40,226.71a3.5,3.5 0 1,0 7,0a3.5,3.5 0 1,0 -7,0 M559.73,226.27a3.5,3.5 0 1,0 7,0a3.5,3.5 0 1,0 -7,0 M560.07,225.84a3.5,3.5 0 1,0 7,0a3.5,3.5 0 1,0 -7,0 M560.42,225.41a3.5,3.5 0 1,0 7,0a3.5,3.5 0 1,0 -7,0 M560.77,224.99a3.5,3.5 0 1,0 7,0a3.5,3.5 0 1,0 -7,0 M561.13,224.58a3.5,3.5 0 1,0 7,0a3.5,3.5 0 1,0 -7,0 M561.50,224.16a3.5,3.5 0 1,0 7,0a3.5,3.5 0 1,0 -7,0 M561.87,223.76a3.5,3.5 0 1,0 7,0a3.5,3.5 0 1,0 -7,0 M562.25,223.36a3.5,3.5 0 1,0 7,0a3.5,3.5 0 1,0 -7,0 M562.63,222.97a3.5,3.5 0 1,0 7,0a3.5,3.5 0 1,0 -7,0 M563.03,222.58a3.5,3.5 0 1,0 7,0a3.5,3.5 0 1,0 -7,0 M563.45,222.18a3.5,3.5 0 1,0 7,0a3.5,3.5 0 1,0 -7,0 M563.90,221.77a3.5,3.5 0 1,0 7,0a3.5,3.5 0 1,0 -7,0 M564.38,221.36a3.5,3.5 0 1,0 7,0a3.5,3.5 0 1,0 -7,0 M564.89,220.94a3.5,3.5 0 1,0 7,0a3.5,3.5 0 1,0 -7,0 M565.43,220.51a3.5,3.5 0 1,0 7,0a3.5,3.5 0 1,0 -7,0 M566.01,220.09a3.5,3.5 0 1,0 7,0a3.5,3.5 0 1,0 -7,0 M566.64,219.66a3.5,3.5 0 1,0 7,0a3.5,3.5 0 1,0 -7,0 M567.30,219.23a3.5,3.5 0 1,0 7,0a3.5,3.5 0 1,0 -7,0 M568.02,218.81a3.5,3.5 0 1,0 7,0a3.5,3.5 0 1,0 -7,0 M568.78,218.39a3.5,3.5 0 1,0 7,0a3.5,3.5 0 1,0 -7,0 M569.62,217.99a3.5,3.5 0 1,0 7,0a3.5,3.5 0 1,0 -7,0 M570.55,217.59a3.5,3.5 0 1,0 7,0a3.5,3.5 0 1,0 -7,0 M571.58,217.20a3.5,3.5 0 1,0 7,0a3.5,3.5 0 1,0 -7,0 M572.74,216.85a3.5,3.5 0 1,0 7,0a3.5,3.5 0 1,0 -7,0 M574.02,216.54a3.5,3.5 0 1,0 7,0a3.5,3.5 0 1,0 -7,0 M575.45,216.30a3.5,3.5 0 1,0 7,0a3.5,3.5 0 1,0 -7,0 M577.06,216.14a3.5,3.5 0 1,0 7,0a3.5,3.5 0 1,0 -7,0 M578.87,216.10a3.5,3.5 0 1,0 7,0a3.5,3.5 0 1,0 -7,0 M581.40,215.73a3.5,3.5 0 1,0 7,0a3.5,3.5 0 1,0 -7,0 M584.10,215.24a3.5,3.5 0 1,0 7,0a3.5,3.5 0 1,0 -7,0 M587.40,214.65a3.5,3.5 0 1,0 7,0a3.5,3.5 0 1,0 -7,0 M591.40,213.94a3.5,3.5 0 1,0 7,0a3.5,3.5 0 1,0 -7,0 M597.10,212.92a3.5,3.5 0 1,0 7,0a3.5,3.5 0 1,0 -7,0 M603.90,211.69a3.5,3.5 0 1,0 7,0a3.5,3.5 0 1,0 -7,0 M612.20,210.17a3.5,3.5 0 1,0 7,0a3.5,3.5 0 1,0 -7,0 M621.70,208.36a3.5,3.5 0 1,0 7,0a3.5,3.5 0 1,0 -7,0 M633.30,206.03a3.5,3.5 0 1,0 7,0a3.5,3.5 0 1,0 -7,0 M647.50,202.91a3.5,3.5 0 1,0 7,0a3.5,3.5 0 1,0 -7,0 M661.90,199.37a3.5,3.5 0 1,0 7,0a3.5,3.5 0 1,0 -7,0 M676.20,195.37a3.5,3.5 0 1,0 7,0a3.5,3.5 0 1,0 -7,0 M690.70,190.73a3.5,3.5 0 1,0 7,0a3.5,3.5 0 1,0 -7,0 M705.10,185.44a3.5,3.5 0 1,0 7,0a3.5,3.5 0 1,0 -7,0 M719.40,179.42a3.5,3.5 0 1,0 7,0a3.5,3.5 0 1,0 -7,0" stroke="#00f" stroke-width="0.88" fill="none"/>
<path d="M584.50,215.33h.8v.8h-.8z M587.20,214.84h.8v.8h-.8z M590.50,214.25h.8v.8h-.8z M594.50,213.54h.8v.8h-.8z M600.20,212.52h.8v.8h-.8z M607.00,211.29h.8v.8h-.8z M615.30,209.77h.8v.8h-.8z M624.80,207.96h.8v.8h-.8z M636.40,205.63h.8v.8h-.8z M650.60,202.51h.8v.8h-.8z M665.00,198.97h.8v.8h-.8z M679.30,194.97h.8v.8h-.8z M693.80,190.33h.8v.8h-.8z M708.20,185.04h.8v.8h-.8z M722.50,179.02h.8v.8h-.8z" fill="#00f" fill-opacity="0.45"/>
<g font-family="Liberation Sans, sans-serif" font-size="16" fill="#000" opacity="0.995">
<text x="72.5" y="538.06" text-anchor="end">0.1</text>
<text x="72.5" y="382.61" text-anchor="end">1</text>
<text x="72.5" y="227.17" text-anchor="end">10</text>
<text x="72.5" y="71.72" text-anchor="end">100</text>
<text x="84.40" y="553.5" text-anchor="middle">0</text>
<text x="228.45" y="553.5" text-anchor="middle">200000</text>
<text x="372.50" y="553.5" text-anchor="middle">400000</text>
<text x="516.55" y="553.5" text-anchor="middle">600000</text>
<text x="660.60" y="553.5" text-anchor="middle">800000</text>
<text x="804.65" y="553.5" text-anchor="middle">1e+06</text>
<text x="442.4" y="579.0" text-anchor="middle" font-size="16.0">time, yrs</text>
<text transform="translate(22,275.8) rotate(-90)" text-anchor="middle" font-size="16.14">Planet Mass / M_Earth</text>
</g>
</svg></body></html>
